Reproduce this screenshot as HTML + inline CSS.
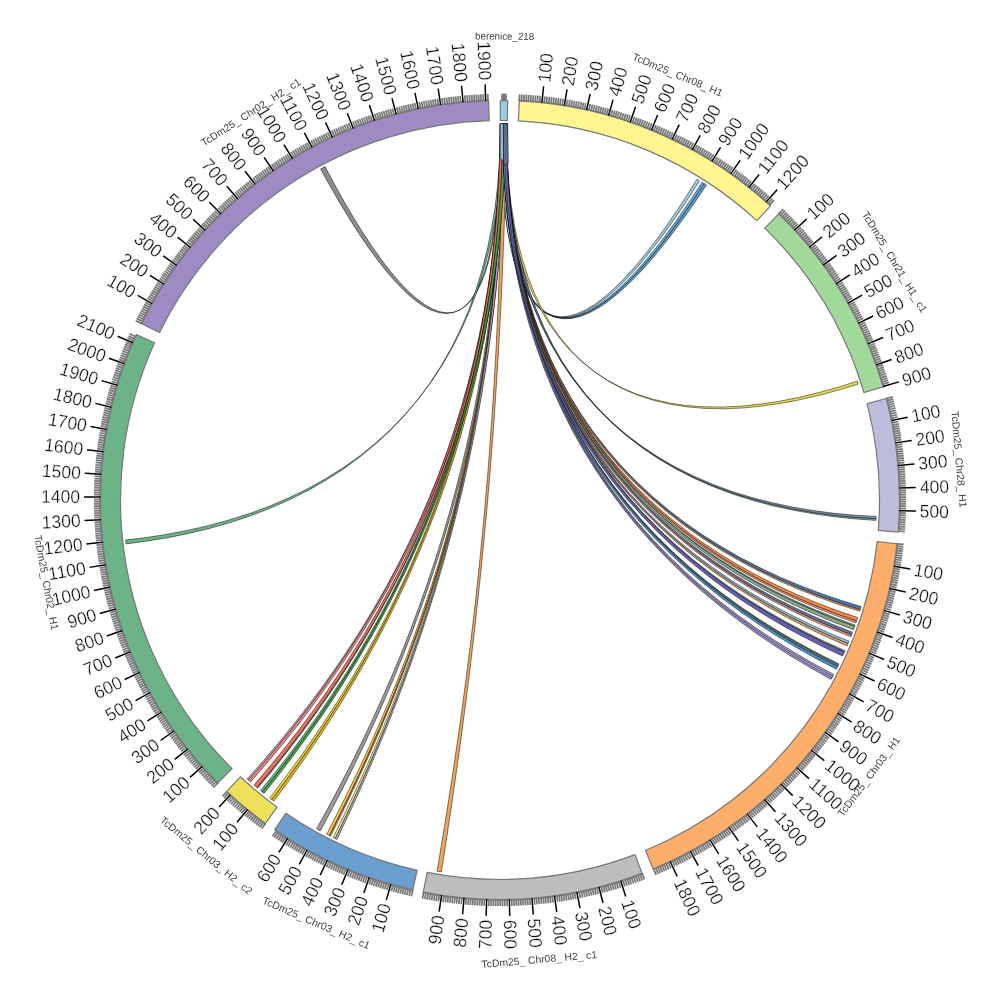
<!DOCTYPE html>
<html><head><meta charset="utf-8"><title>circos</title>
<style>html,body{margin:0;padding:0;background:#fff}svg{display:block}</style></head>
<body>
<svg width="1000" height="1000" viewBox="0 0 1000 1000">
<rect width="1000" height="1000" fill="#fff"/>
<g stroke="#000" stroke-opacity="0.62" stroke-width="0.8" stroke-linejoin="round">
<path d="M500.8 123.5L502 123.5L501.7 142.5L501.1 161.3L500.2 179.7L498.9 197.5L497.1 214.5L494.9 230.5L492.3 245.5L489.2 259.2L485.6 271.5L481.6 282.4L477 291.7L472 299.4L466.5 305.3L460.6 309.6L454.2 312.1L447.4 312.8L440.1 311.8L432.5 309L424.5 304.5L416.2 298.3L407.6 290.5L398.8 281.2L389.7 270.5L380.5 258.4L371.2 245.2L361.8 230.9L352.4 215.7L343.1 199.8L334 183.4L325 166.6L320.6 169L329.8 185.6L339.2 201.9L348.8 217.7L358.3 232.7L367.9 246.9L377.5 260L386.9 271.9L396.2 282.6L405.2 291.8L414 299.4L422.5 305.5L430.6 309.9L438.4 312.6L445.8 313.6L452.7 312.7L459.2 310.2L465.3 305.8L470.9 299.8L475.9 292L480.5 282.6L484.6 271.7L488.2 259.3L491.3 245.6L494 230.6L496.1 214.5L497.9 197.5L499.2 179.7L500.1 161.3L500.6 142.5L500.8 123.5Z" fill="#8c8c8c"/>
<path d="M500.7 123.5L503.6 123.5L503.1 144.6L501.9 165.8L499.9 187L497.1 208.2L493.5 229.3L489 250.1L483.6 270.6L477.3 290.6L469.9 310.2L461.6 329.2L452.3 347.7L442.1 365.4L430.8 382.4L418.6 398.7L405.4 414.1L391.3 428.8L376.3 442.5L360.4 455.4L343.8 467.3L326.3 478.3L308.2 488.4L289.4 497.6L270 505.9L250.2 513.3L229.9 519.7L209.3 525.4L188.5 530.2L167.5 534.2L146.5 537.5L125.6 540L126.1 543.9L146.9 541.1L167.9 537.7L188.8 533.4L209.6 528.4L230.2 522.6L250.4 515.9L270.2 508.3L289.5 499.8L308.2 490.4L326.2 480.1L343.6 468.9L360.1 456.8L375.9 443.8L390.8 429.9L404.8 415.2L417.8 399.6L429.9 383.2L441 366L451.2 348.2L460.3 329.7L468.5 310.6L475.6 290.9L481.8 270.8L487.1 250.2L491.4 229.4L494.9 208.3L497.5 187L499.2 165.8L500.3 144.6L500.7 123.5Z" fill="#6cb488"/>
<path d="M500.7 123.5L503.3 123.5L503.3 142.6L503.7 161.5L504.5 180L505.7 197.9L507.5 215.1L509.7 231.3L512.5 246.5L515.8 260.5L519.7 273.2L524.2 284.5L529.2 294.2L534.8 302.4L540.9 308.9L547.6 313.7L554.9 316.8L562.6 318.2L570.9 317.9L579.6 315.8L588.7 312.1L598.3 306.7L608.2 299.7L618.4 291.3L628.9 281.4L639.6 270.2L650.4 257.9L661.3 244.5L672.2 230.2L683 215.2L693.7 199.6L704.2 183.7L702 182.3L691.6 198.3L681 213.9L670.3 229L659.5 243.4L648.7 256.8L638 269.3L627.4 280.5L617 290.4L606.8 299L596.9 306L587.4 311.4L578.3 315.3L569.6 317.4L561.4 317.8L553.6 316.5L546.3 313.4L539.6 308.6L533.4 302.1L527.7 294L522.7 284.3L518.1 273.1L514.2 260.4L510.7 246.5L507.9 231.3L505.5 215L503.6 197.9L502.3 179.9L501.3 161.4L500.8 142.6L500.7 123.5Z" fill="#6baed6"/>
<path d="M500.7 123.5L503.3 123.5L503.3 142.6L503.7 161.5L504.5 180L505.8 197.9L507.5 215.1L509.8 231.4L512.6 246.6L516 260.7L519.9 273.4L524.4 284.7L529.5 294.4L535.1 302.6L541.3 309.2L548.1 314.1L555.4 317.2L563.3 318.7L571.6 318.4L580.4 316.4L589.7 312.7L599.3 307.4L609.4 300.5L619.7 292.1L630.3 282.3L641.1 271.2L652 259L663 245.6L674 231.4L685 216.5L695.8 201L706.4 185.1L704.2 183.7L693.7 199.6L683 215.2L672.2 230.2L661.2 244.5L650.3 257.9L639.5 270.3L628.7 281.4L618.2 291.3L608 299.7L598 306.7L588.4 312.1L579.2 315.8L570.4 317.9L562 318.2L554.2 316.9L546.8 313.7L540 308.9L533.8 302.4L528 294.2L522.9 284.5L518.3 273.2L514.3 260.6L510.9 246.6L507.9 231.4L505.5 215.1L503.7 197.9L502.3 180L501.3 161.5L500.8 142.6L500.7 123.5Z" fill="#5a9fd0"/>
<path d="M500.7 123.5L503.3 123.5L503.3 142.6L503.7 161.4L504.4 179.9L505.7 197.8L507.4 215L509.6 231.2L512.3 246.3L515.5 260.3L519.3 272.9L523.7 284.1L528.6 293.8L534 301.8L540 308.3L546.6 313L553.6 316L561.2 317.3L569.3 316.8L577.8 314.6L586.7 310.7L596.1 305.2L605.7 298.1L615.7 289.5L625.9 279.5L636.4 268.2L646.9 255.6L657.6 242.1L668.2 227.7L678.8 212.5L689.3 196.8L699.5 180.7L697 179.2L686.9 195.3L676.6 211.1L666.1 226.3L655.6 240.9L645 254.5L634.6 267.1L624.2 278.5L614.1 288.6L604.2 297.3L594.6 304.5L585.3 310L576.4 314L567.9 316.3L559.8 316.8L552.3 315.6L545.2 312.6L538.6 308L532.6 301.6L527.1 293.5L522.1 283.9L517.7 272.8L513.8 260.2L510.5 246.3L507.7 231.1L505.4 214.9L503.6 197.8L502.2 179.9L501.3 161.4L500.8 142.5L500.7 123.5Z" fill="#9ecae1"/>
<path d="M502 123.5L504.9 123.5L504.5 147.2L503.7 171.1L502.6 195.2L501.1 219.4L499.2 243.8L497 268.2L494.4 292.7L491.3 317.3L487.8 341.9L483.9 366.5L479.6 391.1L474.8 415.7L469.5 440.2L463.9 464.6L457.7 489L451.2 513.2L444.2 537.3L436.8 561.2L429 585L420.7 608.6L412.1 632L403.2 655.1L393.8 678.1L384.1 700.8L374.1 723.2L363.9 745.3L353.3 767.2L342.5 788.7L331.5 810L320.3 830.9L316.6 828.8L328 808.1L339.2 787L350.2 765.6L360.9 743.9L371.4 721.9L381.5 699.6L391.4 677L400.9 654.2L410 631.1L418.7 607.8L427 584.3L434.9 560.6L442.4 536.7L449.5 512.6L456.1 488.5L462.2 464.2L467.9 439.8L473.1 415.3L477.9 390.7L482.2 366.2L486.1 341.6L489.5 317L492.4 292.5L495 268L497.1 243.5L498.8 219.2L500.1 195L501.1 171L501.7 147.2L502 123.5Z" fill="#9a9a9a"/>
<path d="M502.6 123.5L505.6 123.5L505.1 147.3L504.3 171.3L503.2 195.4L501.7 219.7L499.9 244.1L497.7 268.6L495.2 293.2L492.2 317.9L488.9 342.5L485.1 367.2L481 391.9L476.4 416.5L471.4 441.1L466 465.7L460.2 490.1L453.9 514.5L447.3 538.7L440.2 562.8L432.8 586.8L424.9 610.5L416.7 634.1L408.2 657.5L399.3 680.7L390.1 703.6L380.6 726.3L370.8 748.7L360.8 770.9L350.5 792.8L340 814.3L329.4 835.6L326.7 834.3L337.5 813.1L348.1 791.6L358.6 769.9L368.7 747.8L378.6 725.5L388.2 702.9L397.5 680L406.5 656.9L415.1 633.6L423.4 610L431.3 586.3L438.8 562.4L445.8 538.3L452.5 514.1L458.8 489.8L464.6 465.4L470 440.8L474.9 416.3L479.5 391.6L483.6 367L487.2 342.3L490.5 317.6L493.3 293L495.7 268.4L497.8 243.9L499.4 219.6L500.7 195.3L501.7 171.2L502.3 147.3L502.6 123.5Z" fill="#f5c842"/>
<path d="M502.6 123.5L505.6 123.5L505.1 147.3L504.3 171.3L503.2 195.5L501.7 219.8L499.9 244.2L497.8 268.7L495.2 293.3L492.3 317.9L489 342.6L485.3 367.3L481.1 392L476.6 416.6L471.6 441.3L466.2 465.8L460.4 490.3L454.2 514.7L447.6 538.9L440.6 563L433.2 587L425.5 610.8L417.3 634.4L408.8 657.8L400 681L390.9 704L381.4 726.7L371.7 749.2L361.7 771.4L351.5 793.3L341.1 814.9L330.5 836.2L329.4 835.6L340 814.4L350.5 792.8L360.7 770.9L370.7 748.8L380.5 726.4L390 703.7L399.1 680.7L408 657.6L416.5 634.2L424.6 610.6L432.4 586.8L439.7 562.8L446.7 538.7L453.3 514.5L459.4 490.1L465.1 465.7L470.5 441.1L475.3 416.5L479.8 391.8L483.8 367.1L487.4 342.5L490.6 317.8L493.4 293.1L495.8 268.6L497.8 244L499.5 219.6L500.8 195.4L501.7 171.2L502.3 147.3L502.6 123.5Z" fill="#f08050"/>
<path d="M502.6 123.5L505.6 123.5L505.1 147.4L504.3 171.4L503.2 195.6L501.8 219.9L500.1 244.4L498 268.9L495.5 293.5L492.6 318.2L489.4 342.9L485.8 367.6L481.7 392.4L477.3 417.1L472.5 441.7L467.2 466.3L461.6 490.9L455.6 515.3L449.2 539.6L442.4 563.8L435.2 587.8L427.6 611.7L419.7 635.4L411.4 659L402.9 682.3L394 705.4L384.8 728.2L375.3 750.8L365.6 773.2L355.7 795.3L345.6 817L335.2 838.5L333.2 837.5L343.6 816.1L353.8 794.4L363.9 772.4L373.7 750.2L383.2 727.6L392.5 704.8L401.4 681.8L410.1 658.5L418.4 635L426.3 611.4L433.9 587.5L441.1 563.5L447.9 539.3L454.4 515L460.4 490.6L466 466.1L471.2 441.5L475.9 416.8L480.3 392.1L484.2 367.4L487.8 342.7L490.9 318L493.6 293.3L496 268.7L497.9 244.2L499.5 219.8L500.8 195.5L501.7 171.3L502.3 147.3L502.6 123.5Z" fill="#f5ee80"/>
<path d="M502.6 123.5L505.6 123.5L505.1 147.4L504.3 171.4L503.2 195.6L501.8 220L500.1 244.4L498 269L495.6 293.6L492.7 318.3L489.5 343L485.9 367.8L482 392.5L477.6 417.2L472.8 441.9L467.6 466.5L462.1 491.1L456.1 515.5L449.7 539.9L443 564.1L435.9 588.2L428.4 612.1L420.6 635.8L412.4 659.4L403.9 682.7L395.1 705.9L386.1 728.8L376.7 751.4L367.1 773.8L357.3 796L347.2 817.8L337 839.4L335.2 838.5L345.5 817.1L355.7 795.3L365.6 773.2L375.3 750.9L384.7 728.3L393.8 705.4L402.7 682.3L411.2 659L419.4 635.5L427.3 611.8L434.8 587.9L441.9 563.8L448.6 539.6L454.9 515.3L460.9 490.8L466.4 466.3L471.5 441.7L476.2 417L480.5 392.3L484.4 367.6L487.9 342.8L491 318.1L493.7 293.4L496 268.8L498 244.3L499.6 219.8L500.8 195.5L501.7 171.3L502.3 147.3L502.6 123.5Z" fill="#b0aac8"/>
<path d="M502 123.5L505.6 123.5L505 146.8L504.1 170.3L502.7 194L500.9 217.8L498.6 241.8L495.7 265.8L492.4 289.9L488.5 314L484.1 338.2L479.1 362.3L473.5 386.3L467.4 410.2L460.7 434L453.5 457.7L445.7 481.2L437.3 504.5L428.4 527.6L418.9 550.5L408.9 573.1L398.5 595.4L387.5 617.4L376.1 639.1L364.2 660.5L352 681.5L339.4 702.2L326.4 722.5L313.1 742.3L299.6 761.8L285.8 780.9L271.8 799.5L269.8 797.9L283.8 779.4L297.7 760.5L311.3 741.1L324.7 721.3L337.7 701.2L350.4 680.6L362.7 659.7L374.6 638.4L386.1 616.7L397.1 594.8L407.6 572.5L417.5 549.9L427 527.1L435.9 504.1L444.2 480.8L452 457.3L459.2 433.7L465.8 409.9L471.8 386L477.2 362L482.1 337.9L486.4 313.8L490.1 289.7L493.3 265.6L496 241.6L498.1 217.6L499.7 193.8L500.9 170.2L501.7 146.7L502 123.5Z" fill="#f0d840"/>
<path d="M502 123.5L505.6 123.5L505 146.8L504.1 170.3L502.7 194L500.9 217.9L498.6 241.9L495.8 265.9L492.5 290.1L488.6 314.2L484.3 338.4L479.3 362.5L473.8 386.5L467.7 410.5L461.1 434.3L453.9 458.1L446.2 481.6L437.9 505L429.1 528.1L419.7 551L409.8 573.7L399.4 596.1L388.6 618.2L377.3 640L365.5 661.4L353.4 682.5L340.9 703.3L328 723.6L314.8 743.6L301.4 763.2L287.8 782.3L273.9 801.1L271.8 799.5L285.8 780.9L299.5 761.9L313 742.4L326.3 722.5L339.2 702.2L351.8 681.6L364 660.6L375.8 639.2L387.2 617.5L398 595.4L408.4 573.1L418.3 550.5L427.7 527.6L436.5 504.5L444.7 481.2L452.4 457.7L459.6 434L466.1 410.2L472.1 386.2L477.5 362.2L482.3 338.1L486.5 313.9L490.2 289.8L493.4 265.7L496 241.7L498.1 217.7L499.8 193.9L500.9 170.2L501.7 146.7L502 123.5Z" fill="#e8b820"/>
<path d="M500.3 123.5L503.9 123.5L503.5 146.5L502.6 169.8L501.2 193.2L499.3 216.9L496.8 240.6L493.8 264.4L490.2 288.2L486 312.1L481.2 335.9L475.8 359.6L469.8 383.3L463.1 406.8L455.7 430.2L447.8 453.4L439.2 476.3L430 499.1L420.2 521.5L409.8 543.7L398.8 565.5L387.3 587.1L375.2 608.2L362.6 629L349.6 649.4L336.1 669.4L322.2 689L308 708.1L293.4 726.8L278.6 745L263.5 762.8L248.3 780L247.1 778.9L262.4 761.7L277.5 744.1L292.3 725.9L306.9 707.3L321.2 688.3L335.1 668.8L348.6 648.8L361.7 628.5L374.2 607.7L386.3 586.6L397.8 565.1L408.7 543.3L419.1 521.2L428.8 498.7L438 476L446.5 453.1L454.3 429.9L461.5 406.6L468.1 383.1L474 359.4L479.3 335.7L484 311.9L488 288L491.4 264.2L494.3 240.4L496.5 216.7L498.2 193.1L499.4 169.7L500.1 146.5L500.3 123.5Z" fill="#c3c4e8"/>
<path d="M500.3 123.5L503.9 123.5L503.5 146.6L502.6 169.8L501.2 193.3L499.3 216.9L496.9 240.7L493.9 264.5L490.3 288.4L486.2 312.3L481.4 336.1L476.1 359.9L470.1 383.6L463.4 407.2L456.2 430.6L448.3 453.8L439.8 476.8L430.7 499.6L420.9 522.1L410.6 544.4L399.7 566.3L388.3 587.9L376.3 609.2L363.9 630L351 650.5L337.6 670.6L323.8 690.3L309.7 709.6L295.3 728.4L280.6 746.7L265.6 764.6L250.5 782L248.3 780L263.5 762.8L278.6 745L293.4 726.8L307.9 708.2L322.1 689L335.9 669.5L349.4 649.5L362.3 629.1L374.8 608.3L386.8 587.1L398.3 565.6L409.2 543.7L419.5 521.5L429.2 499L438.3 476.3L446.7 453.3L454.6 430.1L461.7 406.8L468.3 383.2L474.2 359.6L479.4 335.8L484.1 312L488.1 288.1L491.5 264.3L494.3 240.5L496.5 216.8L498.2 193.2L499.4 169.7L500.1 146.5L500.3 123.5Z" fill="#f08078"/>
<path d="M502.3 123.5L506.9 123.6L506.4 148.3L505.8 173L505.1 197.9L504.3 222.8L503.4 247.7L502.4 272.7L501.3 297.8L500 322.9L498.7 348L497.2 373.1L495.5 398.3L493.8 423.4L491.9 448.6L489.9 473.8L487.8 498.9L485.5 524.1L483.1 549.2L480.6 574.3L477.9 599.4L475.2 624.5L472.3 649.5L469.3 674.4L466.2 699.4L462.9 724.2L459.6 749L456.1 773.8L452.6 798.4L448.9 823L445.2 847.5L441.4 871.9L437.1 871.2L441.1 846.9L445.1 822.5L449 798L452.8 773.4L456.4 748.7L460 724L463.4 699.2L466.6 674.3L469.8 649.3L472.8 624.3L475.7 599.3L478.4 574.2L480.9 549.1L483.4 523.9L485.6 498.7L487.8 473.6L489.7 448.4L491.5 423.2L493.2 398L494.7 372.8L496.1 347.7L497.3 322.6L498.4 297.5L499.3 272.5L500.1 247.5L500.8 222.5L501.4 197.7L501.8 172.9L502.1 148.1L502.3 123.5Z" fill="#f2a35a"/>
<path d="M500.1 123.5L503.6 123.5L503.2 146.6L502.3 170L501 193.5L499.2 217.2L496.8 241L494 264.9L490.5 288.9L486.5 312.9L481.9 336.8L476.7 360.7L470.9 384.5L464.5 408.2L457.4 431.8L449.8 455.2L441.5 478.4L432.7 501.4L423.3 524.1L413.3 546.6L402.7 568.7L391.6 590.6L380 612.1L368 633.3L355.4 654.1L342.4 674.5L329.1 694.6L315.3 714.2L301.3 733.4L287 752.1L272.5 770.4L257.7 788.2L257 787.6L271.7 769.8L286.3 751.6L300.6 732.9L314.7 713.8L328.4 694.2L341.8 674.2L354.7 653.8L367.3 633L379.3 611.9L390.9 590.4L401.9 568.5L412.4 546.3L422.4 523.9L431.7 501.2L440.5 478.2L448.6 455L456.1 431.6L463.1 408.1L469.4 384.4L475 360.5L480.1 336.7L484.5 312.7L488.4 288.8L491.7 264.8L494.4 240.9L496.5 217.1L498.1 193.4L499.3 169.9L499.9 146.6L500.1 123.5Z" fill="#a0a0a0"/>
<path d="M500.1 123.5L503.6 123.5L503.2 146.6L502.3 170L501 193.5L499.2 217.2L496.8 241L493.9 264.9L490.5 288.8L486.4 312.8L481.8 336.7L476.6 360.6L470.8 384.4L464.3 408.1L457.3 431.7L449.6 455L441.4 478.2L432.5 501.2L423 523.9L413 546.3L402.4 568.5L391.3 590.3L379.7 611.8L367.5 633L354.9 653.7L341.9 674.1L328.5 694.1L314.8 713.7L300.7 732.8L286.3 751.5L271.7 769.8L257 787.6L254 785L268.9 767.4L283.6 749.4L298.1 730.8L312.3 711.9L326.2 692.4L339.7 672.6L352.9 652.3L365.6 631.7L377.8 610.6L389.5 589.3L400.7 567.5L411.3 545.5L421.4 523.1L430.8 500.5L439.7 477.6L447.9 454.4L455.6 431.1L462.6 407.6L469 384L474.7 360.2L479.8 336.4L484.3 312.5L488.2 288.5L491.5 264.6L494.3 240.8L496.5 217L498.1 193.3L499.2 169.8L499.9 146.5L500.1 123.5Z" fill="#e8705a"/>
<path d="M503 123.5L506.2 123.6L505.7 146.7L504.6 170.1L503.2 193.7L501.2 217.5L498.8 241.3L495.8 265.3L492.3 289.3L488.2 313.3L483.6 337.3L478.4 361.3L472.5 385.2L466.1 408.9L459.1 432.6L451.6 456L443.4 479.3L434.6 502.4L425.3 525.3L415.4 547.9L405 570.2L394.1 592.2L382.7 613.9L370.7 635.2L358.4 656.2L345.6 676.8L332.5 697.1L319 716.9L305.2 736.3L291.1 755.3L276.8 773.9L262.3 792L260.5 790.5L275.1 772.5L289.5 754.1L303.6 735.2L317.5 715.9L331.1 696.1L344.3 676L357.1 655.4L369.5 634.5L381.4 613.2L392.9 591.6L403.8 569.6L414.2 547.4L424.1 524.8L433.4 502L442.1 479L450.2 455.7L457.7 432.2L464.7 408.6L471 384.9L476.7 361L481.8 337.1L486.3 313.1L490.3 289.1L493.6 265.1L496.4 241.2L498.7 217.3L500.5 193.6L501.8 170L502.6 146.6L503 123.5Z" fill="#5fba7d"/>
<path d="M503 123.5L506.2 123.6L505.7 146.7L504.7 170.2L503.2 193.8L501.3 217.5L498.8 241.4L495.9 265.4L492.4 289.4L488.4 313.5L483.7 337.5L478.6 361.5L472.8 385.4L466.4 409.2L459.5 432.8L452 456.4L443.8 479.7L435.2 502.8L425.9 525.7L416.1 548.4L405.8 570.7L394.9 592.8L383.6 614.6L371.8 636L359.5 657L346.8 677.7L333.8 698.1L320.4 718L306.6 737.5L292.7 756.6L278.5 775.2L264.1 793.4L262.3 792L276.8 773.9L291 755.4L305.1 736.4L318.9 717L332.3 697.1L345.5 676.9L358.2 656.3L370.5 635.3L382.3 613.9L393.7 592.2L404.6 570.2L414.9 547.9L424.7 525.3L433.9 502.4L442.6 479.3L450.6 456L458.1 432.5L464.9 408.9L471.2 385.1L476.9 361.2L481.9 337.2L486.4 313.2L490.3 289.2L493.7 265.2L496.5 241.2L498.7 217.4L500.5 193.6L501.8 170L502.6 146.7L503 123.5Z" fill="#4aa848"/>
<path d="M503.6 123.5L507.1 123.6L507 143.6L507.6 163.7L508.9 183.7L511 203.4L514 222.8L517.8 241.6L522.5 259.8L528.1 277.2L534.7 293.9L542.3 309.6L550.9 324.3L560.5 338L571 350.5L582.5 361.9L594.9 372L608.2 381L622.5 388.7L637.5 395.1L653.4 400.3L669.9 404.2L687.2 406.9L705 408.4L723.4 408.8L742.1 408L761.2 406.2L780.6 403.4L800.1 399.7L819.6 395.1L839 389.9L858.2 384L857.3 381.2L838.1 387.2L818.8 392.6L799.3 397.3L779.8 401.2L760.5 404.1L741.4 406.1L722.6 407L704.2 406.8L686.4 405.5L669.1 402.9L652.5 399.1L636.6 394.1L621.5 387.7L607.2 380.1L593.8 371.3L581.2 361.2L569.6 349.9L559 337.5L549.3 323.9L540.6 309.3L532.8 293.6L526.1 277L520.3 259.6L515.4 241.5L511.4 222.7L508.3 203.4L506 183.7L504.5 163.7L503.7 143.6L503.6 123.5Z" fill="#e8dc50"/>
<path d="M503.6 123.5L506.6 123.6L506.5 144.4L507.2 165.4L508.6 186.5L510.8 207.5L513.9 228.3L517.9 248.8L522.8 269L528.7 288.8L535.5 308L543.4 326.6L552.3 344.6L562.2 361.9L573.1 378.3L585.1 394L597.9 408.8L611.8 422.7L626.6 435.8L642.2 447.8L658.7 458.9L676 469.1L694.1 478.3L712.7 486.5L732 493.8L751.8 500.1L772 505.6L792.5 510.1L813.3 513.8L834.2 516.8L855.1 518.9L875.9 520.4L876 518.7L855.2 517.4L834.3 515.3L813.4 512.5L792.5 508.9L772 504.4L751.7 499L731.9 492.8L712.6 485.6L693.8 477.4L675.7 468.3L658.4 458.2L641.8 447.2L626 435.2L611.2 422.3L597.2 408.4L584.2 393.6L572.2 378L561.1 361.6L551.1 344.4L542 326.5L534 307.9L527 288.7L521 268.9L515.9 248.8L511.7 228.2L508.5 207.4L506.1 186.5L504.6 165.4L503.7 144.4L503.6 123.5Z" fill="#7fc08a"/>
<path d="M503.6 123.5L506.6 123.6L506.5 144.4L507.2 165.4L508.6 186.5L510.8 207.4L513.9 228.2L517.9 248.7L522.8 268.9L528.7 288.6L535.6 307.8L543.4 326.4L552.3 344.4L562.2 361.6L573.2 378L585.1 393.6L598 408.4L611.8 422.2L626.6 435.2L642.3 447.2L658.8 458.2L676.1 468.3L694.1 477.4L712.8 485.6L732.1 492.8L751.9 499L772.1 504.4L792.6 508.9L813.4 512.5L834.3 515.3L855.2 517.4L876 518.7L876.1 516.4L855.3 515.2L834.4 513.3L813.5 510.6L792.7 507.1L772.1 502.7L751.8 497.5L732 491.4L712.7 484.3L693.9 476.2L675.8 467.2L658.5 457.3L641.9 446.3L626.1 434.4L611.2 421.6L597.3 407.8L584.2 393.1L572.2 377.6L561.1 361.2L551.1 344L542.1 326.2L534 307.6L527 288.5L521 268.8L515.9 248.7L511.8 228.2L508.5 207.4L506.1 186.4L504.6 165.4L503.7 144.4L503.6 123.5Z" fill="#7f8fb0"/>
<path d="M503.6 123.5L506.9 123.6L506.8 145L507.4 166.6L508.7 188.4L510.8 210.2L513.7 232L517.4 253.6L522.1 275L527.6 296.2L534.1 317L541.6 337.4L550 357.4L559.3 376.8L569.7 395.7L581 414L593.2 431.7L606.4 448.6L620.4 464.9L635.3 480.4L651.1 495.2L667.6 509.3L684.8 522.5L702.7 535L721.2 546.6L740.2 557.5L759.7 567.6L779.6 576.9L799.8 585.4L820.2 593.2L840.6 600.2L861.1 606.6L860.1 609.8L839.7 603.2L819.2 596L798.9 588L778.7 579.3L758.9 569.8L739.4 559.5L720.3 548.5L701.8 536.7L683.9 524.1L666.7 510.7L650.1 496.5L634.4 481.6L619.4 466L605.3 449.6L592.1 432.5L579.7 414.7L568.4 396.4L557.9 377.4L548.4 357.9L539.9 337.8L532.3 317.4L525.7 296.5L520 275.3L515.2 253.8L511.3 232.1L508.2 210.3L506 188.5L504.5 166.7L503.7 145L503.6 123.5Z" fill="#4a78a8"/>
<path d="M503.6 123.5L506.9 123.6L506.8 145L507.4 166.7L508.7 188.5L510.8 210.3L513.6 232.1L517.4 253.8L522 275.2L527.5 296.4L534 317.3L541.4 337.8L549.8 357.8L559.2 377.4L569.5 396.3L580.7 414.7L592.9 432.5L606.1 449.6L620.1 466L634.9 481.6L650.6 496.6L667.1 510.7L684.2 524.1L702.1 536.7L720.6 548.5L739.5 559.6L759 569.8L778.8 579.3L799 588L819.3 596L839.7 603.2L860.1 609.8L859.7 611.3L839.2 604.7L818.8 597.3L798.5 589.3L778.3 580.5L758.5 570.9L739 560.6L720 549.5L701.5 537.6L683.6 524.9L666.4 511.4L649.9 497.2L634.1 482.2L619.2 466.5L605.1 450L591.9 432.9L579.6 415.1L568.3 396.7L557.8 377.7L548.4 358.1L539.8 338L532.3 317.5L525.7 296.6L520 275.4L515.2 253.9L511.3 232.2L508.2 210.4L506 188.5L504.5 166.7L503.7 145L503.6 123.5Z" fill="#f2a060"/>
<path d="M503.6 123.5L506.6 123.6L506.5 145.1L507.1 166.8L508.4 188.7L510.5 210.6L513.3 232.5L517.1 254.2L521.7 275.8L527.2 297.1L533.6 318.1L541 338.8L549.3 359L558.6 378.7L568.8 397.9L580 416.5L592.1 434.5L605.1 451.9L619.1 468.6L633.8 484.6L649.4 499.8L665.7 514.3L682.8 528.1L700.5 541.1L718.8 553.3L737.7 564.7L757 575.4L776.8 585.3L796.8 594.5L817 602.9L837.3 610.6L857.7 617.6L856.5 621L836.2 613.8L815.9 605.9L795.7 597.3L775.7 587.9L756 577.8L736.7 567L717.9 555.3L699.5 542.9L681.8 529.8L664.8 515.9L648.4 501.2L632.8 485.8L618 469.7L604.1 452.9L591 435.4L578.8 417.3L567.6 398.6L557.3 379.3L547.9 359.5L539.5 339.2L532 318.5L525.4 297.5L519.8 276.1L515 254.5L511.2 232.6L508.2 210.7L505.9 188.8L504.5 166.9L503.7 145.1L503.6 123.5Z" fill="#f58a42"/>
<path d="M503.6 123.5L506.6 123.6L506.5 145.1L507.1 166.9L508.4 188.8L510.4 210.7L513.3 232.6L517 254.4L521.6 276L527.1 297.4L533.5 318.5L540.8 339.2L549.1 359.5L558.4 379.3L568.6 398.6L579.7 417.3L591.8 435.4L604.8 452.9L618.6 469.7L633.3 485.8L648.8 501.2L665.1 515.9L682.1 529.8L699.8 543L718.1 555.4L736.9 567L756.2 577.8L775.8 587.9L795.8 597.3L815.9 605.9L836.2 613.8L856.5 621L855.9 622.9L835.6 615.6L815.3 607.5L795.2 598.8L775.2 589.3L755.5 579.1L736.3 568.2L717.4 556.5L699.2 544L681.5 530.7L664.4 516.7L648.1 502L632.5 486.5L617.8 470.3L603.9 453.5L590.8 435.9L578.7 417.8L567.4 399L557.1 379.7L547.8 359.8L539.4 339.5L531.9 318.7L525.4 297.6L519.7 276.2L515 254.6L511.2 232.7L508.1 210.8L505.9 188.8L504.5 166.9L503.7 145.1L503.6 123.5Z" fill="#f59a80"/>
<path d="M503.6 123.5L506.6 123.6L506.5 145.1L507.1 166.9L508.4 188.8L510.4 210.8L513.3 232.8L517 254.6L521.5 276.3L527 297.8L533.4 318.9L540.7 339.7L548.9 360.1L558.1 380L568.3 399.4L579.4 418.2L591.4 436.5L604.3 454.1L618.1 471.1L632.7 487.3L648.2 502.9L664.4 517.8L681.3 531.9L698.9 545.2L717.1 557.8L735.9 569.6L755.1 580.7L774.7 591L794.6 600.6L814.7 609.5L834.9 617.6L855.1 625.1L854.7 626.3L834.4 618.8L814.2 610.5L794.1 601.6L774.2 592L754.6 581.6L735.4 570.4L716.6 558.5L698.4 545.9L680.8 532.5L663.8 518.3L647.5 503.4L632 487.8L617.3 471.5L603.5 454.5L590.5 436.8L578.4 418.5L567.2 399.7L556.9 380.2L547.6 360.3L539.2 339.9L531.8 319.1L525.3 297.9L519.7 276.5L515 254.8L511.1 232.9L508.1 210.9L505.9 188.9L504.5 166.9L503.7 145.1L503.6 123.5Z" fill="#8fd08a"/>
<path d="M503.6 123.5L506.6 123.6L506.5 145.1L507.1 166.9L508.4 188.9L510.4 210.9L513.3 232.8L516.9 254.7L521.5 276.4L526.9 297.9L533.3 319.1L540.6 339.9L548.9 360.3L558.1 380.2L568.2 399.6L579.3 418.5L591.3 436.8L604.2 454.5L617.9 471.5L632.6 487.8L648 503.4L664.2 518.3L681.1 532.5L698.7 545.9L716.8 558.5L735.6 570.4L754.7 581.6L774.3 592L794.2 601.6L814.3 610.6L834.5 618.8L854.7 626.3L853.5 629.7L833.3 622L813.1 613.5L793 604.4L773.2 594.6L753.7 584L734.5 572.7L715.8 560.6L697.7 547.8L680.1 534.2L663.2 519.9L647 504.8L631.5 489.1L616.9 472.6L603.1 455.5L590.1 437.7L578.1 419.3L566.9 400.3L556.7 380.8L547.4 360.8L539.1 340.3L531.7 319.5L525.2 298.2L519.6 276.7L514.9 254.9L511.1 233L508.1 211L505.9 189L504.5 167L503.7 145.1L503.6 123.5Z" fill="#8aa890"/>
<path d="M503.3 123.5L506.6 123.6L506.5 145.2L507.1 167L508.4 189L510.4 211.1L513.2 233.1L516.9 255.1L521.4 276.8L526.8 298.4L533.1 319.7L540.4 340.6L548.5 361.1L557.7 381.2L567.7 400.8L578.7 419.9L590.6 438.3L603.4 456.2L617.1 473.4L631.7 490L647 505.9L663.1 521L679.9 535.4L697.3 549.1L715.4 562.1L734 574.3L753.1 585.8L772.5 596.5L792.3 606.5L812.3 615.7L832.4 624.3L852.5 632.2L851.5 634.9L831.4 626.9L811.3 618.2L791.3 608.7L771.6 598.6L752.1 587.7L733.1 576.1L714.5 563.7L696.4 550.6L678.9 536.8L662.1 522.3L646 507L630.6 491L616.1 474.4L602.3 457L589.5 439.1L577.5 420.5L566.4 401.4L556.2 381.7L547 361.6L538.7 341L531.3 320L524.9 298.7L519.3 277.1L514.6 255.3L510.8 233.3L507.8 211.2L505.6 189.1L504.2 167.1L503.4 145.2L503.3 123.5Z" fill="#64789f"/>
<path d="M503.3 123.5L506.6 123.6L506.5 145.2L507.1 167.1L508.3 189.1L510.4 211.2L513.2 233.2L516.8 255.2L521.3 277L526.7 298.6L533 320L540.2 341L548.4 361.6L557.5 381.7L567.5 401.4L578.5 420.5L590.3 439.1L603.1 457L616.7 474.4L631.2 491L646.5 507L662.5 522.3L679.3 536.8L696.7 550.7L714.7 563.8L733.3 576.1L752.3 587.7L771.7 598.6L791.4 608.7L811.3 618.2L831.4 626.9L851.5 634.9L850.8 636.8L830.7 628.6L810.6 619.8L790.7 610.2L771 600L751.6 589L732.6 577.3L714 564.8L696 551.7L678.5 537.7L661.8 523.1L645.7 507.8L630.3 491.7L615.8 475L602.1 457.6L589.3 439.6L577.3 420.9L566.3 401.8L556.1 382.1L546.9 361.9L538.6 341.2L531.3 320.2L524.8 298.9L519.3 277.2L514.6 255.4L510.8 233.3L507.8 211.3L505.6 189.1L504.2 167.1L503.4 145.2L503.3 123.5Z" fill="#f59a80"/>
<path d="M503.3 123.5L506.6 123.6L506.5 145.3L507.1 167.2L508.3 189.3L510.3 211.5L513.1 233.6L516.7 255.7L521.1 277.7L526.5 299.4L532.7 320.9L539.8 342L547.9 362.8L556.9 383.2L566.8 403.1L577.6 422.5L589.4 441.3L602 459.5L615.5 477.2L629.8 494.2L644.9 510.5L660.8 526.2L677.4 541.1L694.6 555.4L712.5 568.9L730.8 581.7L749.7 593.8L768.9 605.1L788.5 615.8L808.2 625.7L828.1 634.9L848.1 643.5L847.1 645.9L827.2 637.2L807.3 627.8L787.5 617.7L768 607L748.8 595.5L729.9 583.3L711.6 570.4L693.7 556.7L676.5 542.3L659.9 527.3L644 511.5L628.8 495.1L614.5 478L600.9 460.3L588.2 441.9L576.4 423L565.5 403.6L555.5 383.6L546.4 363.2L538.2 342.4L530.9 321.2L524.5 299.7L519.1 277.9L514.5 255.9L510.7 233.8L507.7 211.6L505.6 189.4L504.1 167.2L503.4 145.3L503.3 123.5Z" fill="#e8a060"/>
<path d="M503 123.5L506.6 123.6L506.5 145.4L507 167.5L508.2 189.8L510.1 212.2L512.8 234.5L516.3 256.9L520.6 279.1L525.8 301.2L531.8 323L538.7 344.6L546.6 365.8L555.3 386.7L564.9 407.1L575.4 427.1L586.8 446.6L599.1 465.6L612.2 483.9L626.1 501.7L640.8 518.9L656.2 535.5L672.3 551.4L689.1 566.6L706.5 581.2L724.4 595L742.7 608.2L761.5 620.7L780.6 632.5L799.9 643.6L819.4 654.1L839 663.9L838.5 664.8L819 654.9L799.5 644.4L780.1 633.2L761 621.4L742.2 608.8L723.9 595.6L705.9 581.7L688.5 567.1L671.7 551.8L655.5 535.9L640 519.3L625.3 502.1L611.3 484.2L598.1 465.8L585.7 446.8L574.2 427.3L563.6 407.3L553.8 386.9L545 366L537 344.8L529.9 323.2L523.7 301.3L518.4 279.2L513.9 257L510.2 234.6L507.4 212.2L505.2 189.8L503.8 167.5L503.1 145.4L503 123.5Z" fill="#c8c040"/>
<path d="M503 123.5L506.6 123.6L506.5 145.4L507 167.5L508.2 189.8L510.1 212.2L512.8 234.6L516.3 256.9L520.6 279.2L525.8 301.3L531.8 323.1L538.7 344.7L546.5 366L555.2 386.8L564.8 407.3L575.3 427.3L586.7 446.8L598.9 465.8L612 484.2L625.9 502.1L640.6 519.3L656 535.9L672.1 551.8L688.8 567.1L706.2 581.7L724.1 595.6L742.4 608.9L761.1 621.4L780.2 633.3L799.5 644.4L819 654.9L838.5 664.8L837.7 666.5L818.2 656.6L798.7 646L779.4 634.7L760.3 622.7L741.6 610.1L723.2 596.7L705.4 582.7L688 568L671.2 552.7L655.1 536.7L639.6 520L624.9 502.7L611 484.8L597.8 466.3L585.5 447.3L574 427.7L563.4 407.7L553.7 387.2L544.9 366.3L536.9 345L529.9 323.4L523.7 301.5L518.4 279.4L513.9 257.1L510.2 234.7L507.3 212.3L505.2 189.9L503.8 167.6L503.1 145.4L503 123.5Z" fill="#4f8fa0"/>
<path d="M503 123.5L506.6 123.6L506.5 145.4L507 167.6L508.2 189.9L510.1 212.3L512.8 234.7L516.3 257L520.6 279.3L525.7 301.4L531.7 323.3L538.6 344.9L546.4 366.2L555.1 387.2L564.6 407.7L575.1 427.7L586.4 447.3L598.6 466.3L611.7 484.8L625.5 502.7L640.2 520L655.5 536.7L671.6 552.7L688.3 568.1L705.6 582.8L723.4 596.8L741.7 610.1L760.4 622.7L779.5 634.7L798.7 646L818.2 656.6L837.7 666.5L836.4 669.2L816.9 659.1L797.5 648.3L778.3 636.8L759.3 624.7L740.6 611.9L722.3 598.5L704.5 584.3L687.2 569.5L670.5 554L654.4 537.9L639 521.1L624.4 503.7L610.5 485.7L597.4 467.1L585.1 448L573.7 428.3L563.2 408.2L553.5 387.6L544.7 366.7L536.8 345.3L529.7 323.6L523.6 301.7L518.3 279.6L513.8 257.2L510.2 234.8L507.3 212.4L505.2 189.9L503.8 167.6L503.1 145.4L503 123.5Z" fill="#4f8fd0"/>
<path d="M503 123.5L506.9 123.6L506.8 145.5L507.3 167.7L508.4 190.1L510.3 212.5L512.9 235L516.3 257.5L520.5 279.9L525.6 302.1L531.5 324.2L538.3 345.9L545.9 367.4L554.5 388.5L563.9 409.2L574.2 429.5L585.4 449.3L597.4 468.6L610.3 487.4L624 505.6L638.4 523.3L653.6 540.3L669.4 556.7L685.9 572.4L703 587.5L720.6 601.9L738.7 615.7L757.2 628.8L776 641.2L795.1 652.9L814.3 664L833.7 674.4L831 679.4L811.8 668.6L792.7 657.2L773.7 645.2L755 632.5L736.6 619.1L718.6 605.1L701 590.4L684 575.1L667.6 559.1L651.8 542.5L636.6 525.3L622.2 507.4L608.6 489L595.7 470.1L583.7 450.6L572.4 430.7L562.1 410.2L552.6 389.4L543.9 368.2L536.2 346.6L529.2 324.7L523.2 302.6L518 280.3L513.6 257.9L510 235.3L507.2 212.7L505.2 190.2L503.8 167.8L503.1 145.5L503 123.5Z" fill="#a79bd4"/>
<path d="M504.6 123.5L506.2 123.6L506.2 145.5L506.7 167.7L507.9 190.1L509.8 212.6L512.4 235.1L515.9 257.6L520.1 280L525.2 302.3L531.1 324.3L537.9 346.2L545.5 367.7L554.1 388.8L563.5 409.6L573.8 429.9L585 449.8L597 469.2L609.8 488L623.5 506.3L637.9 524L653 541.1L668.8 557.5L685.3 573.4L702.4 588.5L720 603.1L738 616.9L756.5 630.1L775.2 642.6L794.3 654.5L813.5 665.6L832.7 676.2L832 677.6L812.7 667L793.5 655.7L774.5 643.8L755.8 631.2L737.4 617.9L719.3 604L701.8 589.4L684.7 574.1L668.3 558.2L652.4 541.7L637.3 524.6L622.9 506.8L609.2 488.5L596.4 469.6L584.3 450.2L573.1 430.3L562.8 409.9L553.3 389.1L544.7 367.9L537 346.4L530.2 324.5L524.2 302.4L519 280.2L514.7 257.7L511.2 235.2L508.5 212.7L506.5 190.2L505.2 167.7L504.6 145.5L504.6 123.5Z" fill="#c4bce6"/>
<path d="M503 123.5L507.1 123.6L507 145.3L507.5 167.3L508.7 189.5L510.7 211.7L513.4 233.9L516.9 256.1L521.3 278.2L526.5 300L532.7 321.6L539.7 342.9L547.7 363.9L556.5 384.4L566.3 404.5L577 424.1L588.6 443.2L601.1 461.7L614.5 479.6L628.6 496.9L643.6 513.5L659.3 529.5L675.7 544.8L692.8 559.4L710.5 573.3L728.7 586.5L747.3 598.9L766.4 610.7L785.8 621.7L805.4 632.1L825.2 641.7L845 650.7L844.5 651.9L824.7 642.9L804.9 633.1L785.3 622.7L765.9 611.6L746.8 599.8L728.1 587.2L709.8 574L692.1 560L675 545.4L658.5 530L642.7 514L627.7 497.3L613.4 480L600 462.1L587.4 443.5L575.7 424.4L564.8 404.8L554.9 384.7L545.8 364.1L537.7 343.1L530.5 321.8L524.2 300.2L518.7 278.3L514.1 256.2L510.4 234L507.5 211.8L505.3 189.5L503.8 167.3L503.1 145.3L503 123.5Z" fill="#6fbf73"/>
<path d="M503 123.5L507.1 123.6L507 145.3L507.5 167.3L508.7 189.5L510.6 211.7L513.4 234L516.9 256.2L521.2 278.3L526.5 300.1L532.6 321.8L539.6 343.1L547.6 364.1L556.4 384.6L566.2 404.8L576.9 424.4L588.5 443.5L600.9 462L614.3 480L628.4 497.3L643.3 514L659 530.1L675.4 545.4L692.5 560.1L710.1 574L728.3 587.3L746.9 599.8L766 611.6L785.3 622.7L804.9 633.1L824.7 642.9L844.5 651.9L842.6 656.1L822.9 646.8L803.2 636.8L783.6 626.2L764.3 614.8L745.3 602.7L726.7 590L708.6 576.5L691 562.3L673.9 547.5L657.6 531.9L641.9 515.7L626.9 498.9L612.7 481.4L599.4 463.3L586.9 444.6L575.2 425.4L564.4 405.6L554.6 385.4L545.6 364.7L537.5 343.7L530.3 322.3L524 300.6L518.6 278.6L514.1 256.5L510.3 234.2L507.4 211.9L505.3 189.6L503.8 167.4L503.1 145.3L503 123.5Z" fill="#675db4"/>
<path d="M502.8 123.5L504.1 123.5L504.1 145.2L504.8 167.2L506.2 189.2L508.4 211.4L511.3 233.5L515.1 255.6L519.6 277.5L525.1 299.2L531.5 320.7L538.8 341.8L547 362.5L556.1 382.8L566.1 402.7L577.1 422L589 440.8L601.7 458.9L615.3 476.5L629.7 493.4L645 509.6L660.9 525.2L677.6 540.1L694.9 554.2L712.9 567.6L731.3 580.3L750.2 592.3L769.5 603.5L789.2 614L809 623.8L829 632.9L849 641.3L848.1 643.5L828.1 634.9L808.2 625.7L788.4 615.8L768.8 605.1L749.5 593.8L730.6 581.7L712.2 568.9L694.3 555.4L677 541.1L660.3 526.2L644.4 510.5L629.1 494.2L614.7 477.2L601.1 459.6L588.4 441.3L576.5 422.5L565.5 403.1L555.4 383.2L546.3 362.9L538.1 342.1L530.7 320.9L524.3 299.4L518.8 277.7L514.1 255.8L510.3 233.7L507.4 211.5L505.1 189.3L503.7 167.2L502.9 145.2L502.8 123.5Z" fill="#8ec4e6"/>
<path d="M500.3 123.5L503.4 123.5L503.5 161L500.2 158Z" fill="#93c3de"/>
<path d="M503.4 123.5L507.7 123.5L508.3 163L503.5 166Z" fill="#5f6a88"/>
</g>
<path d="M518.36 100.32A400.1 400.1 0 0 1 770.61 205.3M778.48 212.73A400.1 400.1 0 0 1 883.9 387.3M886.72 397.39A400.1 400.1 0 0 1 898.81 532.05M897.8 542.86A400.1 400.1 0 0 1 652.92 869.72M643.25 873.58A400.1 400.1 0 0 1 422.63 892.55M413.61 890.66A400.1 400.1 0 0 1 275.11 830.91M265.85 824.42A400.1 400.1 0 0 1 225.86 791.42M218.13 783.95A400.1 400.1 0 0 1 135.33 335.38M140.58 324.23A400.1 400.1 0 0 1 488.93 100.05" stroke="#787878" stroke-width="1.2" fill="none"/>
<path d="M519.31 100.97L519.63 94.37M521.57 101.08L521.93 94.49M523.83 101.21L524.23 94.62M526.09 101.35L526.52 94.77M528.35 101.51L528.82 94.92M530.61 101.67L531.12 95.09M532.87 101.85L533.42 95.28M535.13 102.05L535.71 95.47M537.39 102.25L538.01 95.68M539.64 102.47L540.3 95.9M544.15 102.95L544.88 96.39M546.4 103.2L547.17 96.65M548.65 103.47L549.46 96.92M550.9 103.76L551.74 97.21M553.15 104.05L554.03 97.51M555.39 104.36L556.31 97.82M557.64 104.68L558.59 98.15M559.88 105.01L560.87 98.49M562.12 105.36L563.14 98.84M566.59 106.09L567.69 99.58M568.82 106.47L569.96 99.97M571.05 106.87L572.23 100.37M573.28 107.28L574.49 100.79M575.51 107.7L576.76 101.22M577.73 108.14L579.02 101.66M579.95 108.58L581.28 102.12M582.17 109.04L583.53 102.58M584.39 109.51L585.78 103.06M588.81 110.5L590.28 104.06M591.02 111.01L592.53 104.58M593.23 111.53L594.77 105.11M595.43 112.07L597.01 105.66M597.63 112.61L599.24 106.21M599.82 113.17L601.47 106.78M602.02 113.75L603.7 107.36M604.21 114.33L605.93 107.96M606.39 114.93L608.15 108.57M610.75 116.16L612.58 109.82M612.93 116.79L614.79 110.46M615.1 117.44L617 111.12M617.27 118.1L619.21 111.79M619.43 118.77L621.41 112.47M621.59 119.45L623.6 113.17M623.75 120.15L625.8 113.87M625.9 120.86L627.98 114.59M628.05 121.58L630.17 115.33M632.34 123.06L634.52 116.83M634.47 123.81L636.69 117.6M636.6 124.58L638.86 118.38M638.73 125.36L641.02 119.17M640.85 126.15L643.18 119.98M642.97 126.96L645.33 120.8M645.09 127.78L647.48 121.63M647.2 128.61L649.63 122.47M649.3 129.45L651.77 123.32M653.49 131.16L656.03 125.07M655.58 132.04L658.15 125.96M657.67 132.93L660.27 126.86M659.75 133.83L662.39 127.78M661.82 134.74L664.5 128.71M663.89 135.67L666.6 129.65M665.96 136.6L668.7 130.6M668.01 137.55L670.79 131.56M670.07 138.51L672.88 132.53M674.16 140.46L677.03 134.52M676.19 141.45L679.1 135.53M678.22 142.46L681.17 136.55M680.25 143.47L683.23 137.58M682.27 144.5L685.28 138.63M684.28 145.54L687.33 139.69M686.29 146.59L689.37 140.76M688.29 147.66L691.4 141.84M690.29 148.73L693.43 142.93M694.26 150.91L697.47 145.14M696.24 152.02L699.48 146.27M698.21 153.14L701.48 147.41M700.17 154.27L703.48 148.56M702.13 155.41L705.47 149.72M704.08 156.56L707.45 150.89M706.03 157.72L709.43 152.07M707.96 158.9L711.4 153.26M709.9 160.08L713.36 154.47M713.74 162.49L717.27 156.91M715.65 163.7L719.21 158.15M717.55 164.93L721.15 159.4M719.45 166.17L723.08 160.66M721.34 167.42L725 161.93M723.22 168.68L726.91 163.21M725.1 169.95L728.82 164.5M726.97 171.24L730.72 165.8M728.83 172.53L732.61 167.12M732.53 175.15L736.37 169.78M734.37 176.47L738.24 171.13M736.2 177.8L740.1 172.48M738.02 179.15L741.96 173.85M739.84 180.51L743.8 175.23M741.65 181.87L745.64 176.61M743.45 183.25L747.47 178.01M745.24 184.63L749.29 179.42M747.03 186.03L751.11 180.84M750.57 188.85L754.71 183.71M752.33 190.28L756.5 185.16M754.09 191.71L758.28 186.62M755.83 193.16L760.06 188.09M757.57 194.62L761.82 189.57M759.3 196.08L763.58 191.06M761.02 197.56L765.33 192.56M762.73 199.04L767.07 194.07M764.43 200.54L768.8 195.59M767.81 203.56L772.23 198.66M769.49 205.08L773.94 200.21M778.77 213.84L783.37 209.11M780.39 215.42L785.02 210.72M782 217.02L786.65 212.34M783.6 218.62L788.28 213.97M785.19 220.24L789.9 215.61M786.77 221.86L791.51 217.26M788.34 223.49L793.11 218.92M789.91 225.13L794.7 220.59M791.46 226.78L796.28 222.26M793.01 228.44L797.85 223.95M796.07 231.78L800.96 227.35M797.59 233.46L802.5 229.06M799.09 235.15L804.03 230.78M800.59 236.85L805.56 232.51M802.08 238.56L807.07 234.24M803.56 240.28L808.57 235.99M805.02 242.01L810.06 237.74M806.48 243.74L811.55 239.51M807.93 245.48L813.02 241.28M810.8 248.99L815.93 244.85M812.22 250.76L817.38 246.64M813.63 252.54L818.81 248.45M815.02 254.32L820.23 250.26M816.41 256.11L821.64 252.08M817.79 257.91L823.04 253.91M819.16 259.71L824.43 255.74M820.52 261.53L825.81 257.59M821.87 263.35L827.18 259.44M824.53 267.02L829.89 263.17M825.85 268.86L831.23 265.04M827.15 270.71L832.56 266.93M828.45 272.57L833.87 268.82M829.73 274.44L835.18 270.71M831.01 276.31L836.47 272.62M832.27 278.19L837.76 274.53M833.52 280.08L839.03 276.45M834.76 281.98L840.29 278.38M837.22 285.79L842.79 282.25M838.43 287.71L844.02 284.2M839.62 289.63L845.23 286.15M840.81 291.56L846.44 288.12M841.99 293.5L847.64 290.08M843.15 295.44L848.82 292.06M844.31 297.39L850 294.04M845.45 299.34L851.16 296.03M846.59 301.31L852.31 298.03M848.82 305.25L854.58 302.03M849.92 307.23L855.7 304.05M851 309.22L856.8 306.07M852.08 311.22L857.9 308.1M853.15 313.22L858.98 310.13M854.2 315.22L860.05 312.17M855.24 317.23L861.11 314.21M856.27 319.25L862.16 316.27M857.29 321.28L863.2 318.32M859.3 325.34L865.23 322.46M860.28 327.38L866.23 324.53M861.26 329.43L867.22 326.61M862.22 331.48L868.2 328.7M863.17 333.54L869.17 330.79M864.11 335.6L870.12 332.88M865.03 337.67L871.06 334.99M865.95 339.74L871.99 337.09M866.85 341.82L872.91 339.21M868.62 345.99L874.71 343.45M869.49 348.08L875.59 345.58M870.34 350.18L876.46 347.71M871.19 352.29L877.32 349.85M872.02 354.39L878.17 351.99M872.84 356.51L879 354.14M873.65 358.62L879.82 356.29M874.44 360.75L880.63 358.44M875.23 362.87L881.43 360.61M876.76 367.14L882.98 364.94M877.51 369.28L883.74 367.12M878.24 371.42L884.49 369.3M878.97 373.57L885.23 371.48M879.68 375.72L885.95 373.67M880.38 377.87L886.66 375.86M881.06 380.03L887.36 378.05M881.74 382.2L888.04 380.25M882.4 384.36L888.72 382.45M886.39 398.49L892.77 396.81M886.96 400.68L893.35 399.04M887.51 402.88L893.92 401.27M888.06 405.08L894.47 403.51M888.59 407.28L895.01 405.75M889.11 409.49L895.54 407.99M889.62 411.7L896.06 410.24M890.11 413.91L896.56 412.48M890.6 416.12L897.05 414.74M891.06 418.34L897.53 416.99M891.97 422.78L898.44 421.5M892.4 425L898.88 423.77M892.82 427.23L899.31 426.03M893.22 429.46L899.72 428.3M893.62 431.69L900.12 430.56M894 433.93L900.51 432.83M894.37 436.16L900.88 435.11M894.72 438.4L901.24 437.38M895.07 440.64L901.59 439.66M895.71 445.13L902.25 444.22M896.02 447.37L902.56 446.5M896.31 449.62L902.86 448.79M896.59 451.87L903.14 451.07M896.86 454.12L903.41 453.36M897.11 456.37L903.67 455.65M897.35 458.62L903.92 457.94M897.58 460.88L904.15 460.23M897.8 463.13L904.37 462.52M898.19 467.65L904.77 467.11M898.36 469.91L904.95 469.41M898.53 472.17L905.11 471.71M898.68 474.43L905.27 474.01M898.82 476.69L905.41 476.3M898.95 478.95L905.54 478.6M899.06 481.22L905.65 480.91M899.16 483.48L905.75 483.21M899.25 485.74L905.84 485.51M899.38 490.27L905.98 490.11M899.43 492.54L906.03 492.42M899.47 494.81L906.07 494.72M899.49 497.07L906.09 497.02M899.5 499.34L906.1 499.33M899.5 501.6L906.1 501.63M899.48 503.87L906.08 503.93M899.45 506.14L906.05 506.24M899.41 508.4L906.01 508.54M899.29 512.93L905.89 513.15M899.21 515.2L905.81 515.45M899.12 517.46L905.71 517.75M899.01 519.72L905.6 520.05M898.89 521.99L905.48 522.35M898.76 524.25L905.35 524.65M898.62 526.51L905.2 526.95M898.46 528.77L905.05 529.25M898.29 531.03L904.87 531.54M897.1 543.77L903.66 544.49M896.84 546.02L903.4 546.78M896.57 548.27L903.12 549.07M896.29 550.52L902.84 551.35M896 552.77L902.54 553.64M895.69 555.01L902.23 555.92M895.38 557.26L901.91 558.2M895.04 559.5L901.57 560.48M894.7 561.74L901.22 562.76M894.34 563.98L900.86 565.03M893.59 568.45L900.1 569.58M893.2 570.68L899.69 571.84M892.79 572.91L899.28 574.11M892.37 575.13L898.85 576.37M891.94 577.36L898.41 578.64M891.49 579.58L897.96 580.89M891.04 581.8L897.5 583.15M890.57 584.02L897.02 585.4M890.08 586.23L896.53 587.65M889.08 590.65L895.51 592.15M888.56 592.85L894.98 594.39M888.03 595.06L894.44 596.63M887.48 597.26L893.88 598.86M886.92 599.45L893.32 601.1M886.35 601.65L892.74 603.33M885.77 603.84L892.14 605.55M885.17 606.02L891.54 607.77M884.57 608.21L890.92 609.99M883.31 612.56L889.65 614.42M882.67 614.73L888.99 616.63M882.01 616.9L888.32 618.83M881.34 619.07L887.64 621.03M880.66 621.23L886.95 623.23M879.97 623.39L886.25 625.42M879.26 625.54L885.53 627.61M878.54 627.69L884.8 629.8M877.81 629.83L884.06 631.98M876.32 634.11L882.53 636.33M875.55 636.24L881.75 638.49M874.77 638.37L880.96 640.66M873.98 640.5L880.16 642.82M873.18 642.61L879.34 644.97M872.36 644.73L878.51 647.12M871.54 646.84L877.67 649.26M870.7 648.94L876.82 651.4M869.85 651.04L875.96 653.54M868.11 655.23L874.19 657.79M867.22 657.32L873.29 659.91M866.32 659.4L872.38 662.03M865.41 661.47L871.45 664.14M864.49 663.54L870.51 666.24M863.56 665.61L869.56 668.34M862.61 667.67L868.6 670.44M861.66 669.72L867.63 672.52M860.69 671.77L866.65 674.61M858.72 675.85L864.64 678.75M857.71 677.88L863.62 680.82M856.7 679.91L862.59 682.88M855.67 681.93L861.55 684.93M854.63 683.94L860.49 686.98M853.59 685.95L859.43 689.02M852.52 687.95L858.35 691.06M851.45 689.95L857.26 693.09M850.37 691.94L856.16 695.11M848.17 695.9L853.92 699.14M847.05 697.88L852.79 701.14M845.92 699.84L851.64 703.14M844.79 701.8L850.48 705.13M843.64 703.75L849.31 707.12M842.47 705.7L848.13 709.1M841.3 707.64L846.94 711.07M840.12 709.57L845.74 713.03M838.92 711.5L844.52 714.99M836.5 715.33L842.06 718.88M835.28 717.23L840.82 720.82M834.04 719.13L839.56 722.75M832.79 721.02L838.29 724.67M831.53 722.91L837.01 726.59M830.26 724.78L835.72 728.5M828.98 726.65L834.42 730.4M827.69 728.52L833.1 732.29M826.39 730.37L831.78 734.18M823.75 734.06L829.1 737.92M822.42 735.89L827.75 739.79M821.08 737.72L826.38 741.64M819.73 739.53L825.01 743.49M818.36 741.34L823.62 745.33M816.99 743.14L822.22 747.16M815.6 744.94L820.82 748.99M814.21 746.73L819.4 750.8M812.8 748.5L817.97 752.61M809.96 752.04L815.09 756.2M808.53 753.79L813.63 757.98M807.09 755.54L812.16 759.76M805.63 757.27L810.68 761.52M804.17 759L809.19 763.28M802.69 760.72L807.69 765.03M801.21 762.44L806.19 766.77M799.72 764.14L804.67 768.51M798.21 765.84L803.14 770.23M795.18 769.2L800.05 773.65M793.65 770.87L798.5 775.35M792.1 772.53L796.93 777.04M790.55 774.19L795.35 778.72M788.99 775.83L793.77 780.39M787.42 777.47L792.17 782.05M785.85 779.09L790.57 783.7M784.26 780.71L788.95 785.35M782.66 782.32L787.33 786.98M779.44 785.51L784.06 790.22M777.82 787.09L782.41 791.83M776.18 788.66L780.75 793.43M774.54 790.22L779.08 795.01M772.89 791.77L777.4 796.59M771.23 793.31L775.71 798.16M769.56 794.85L774.02 799.72M767.89 796.37L772.31 801.27M766.2 797.89L770.6 802.81M762.81 800.89L767.15 805.86M761.09 802.37L765.41 807.37M759.37 803.85L763.66 808.87M757.65 805.32L761.9 810.36M755.91 806.77L760.14 811.84M754.17 808.22L758.37 813.31M752.41 809.66L756.58 814.77M750.65 811.08L754.8 816.22M748.89 812.5L753 817.66M745.32 815.3L749.38 820.51M743.53 816.69L747.56 821.92M741.73 818.07L745.73 823.32M739.92 819.43L743.89 824.71M738.11 820.79L742.04 826.09M736.28 822.13L740.19 827.46M734.45 823.47L738.33 828.81M732.61 824.79L736.46 830.16M730.77 826.11L734.58 831.49M727.05 828.7L730.81 834.13M725.19 829.99L728.91 835.44M723.31 831.26L727 836.73M721.43 832.52L725.09 838.01M719.54 833.77L723.17 839.29M717.64 835.01L721.24 840.55M715.74 836.24L719.3 841.79M713.83 837.46L717.36 843.03M711.91 838.67L715.41 844.26M708.05 841.05L711.49 846.68M706.12 842.22L709.52 847.88M704.17 843.39L707.54 849.06M702.22 844.54L705.56 850.23M700.26 845.68L703.57 851.39M698.3 846.81L701.58 852.54M696.33 847.93L699.57 853.68M694.35 849.04L697.56 854.8M692.37 850.13L695.55 855.92M688.38 852.29L691.5 858.11M686.38 853.36L689.46 859.2M684.38 854.41L687.42 860.26M682.36 855.45L685.38 861.32M680.34 856.48L683.32 862.37M678.32 857.5L681.26 863.4M676.29 858.5L679.2 864.42M674.25 859.5L677.13 865.43M672.21 860.48L675.05 866.43M668.11 862.41L670.89 868.4M666.05 863.36L668.79 869.36M663.99 864.29L666.7 870.31M661.92 865.22L664.59 871.25M659.84 866.13L662.48 872.18M657.76 867.03L660.37 873.09M655.68 867.92L658.25 874M653.59 868.8L656.13 874.89M642.13 873.36L644.47 879.53M640.01 874.16L642.32 880.35M637.88 874.95L640.16 881.15M635.75 875.73L637.99 881.94M633.62 876.49L635.83 882.71M631.48 877.24L633.65 883.48M629.34 877.98L631.48 884.23M627.19 878.71L629.29 884.97M625.04 879.43L627.11 885.7M622.89 880.13L624.92 886.41M618.57 881.5L620.53 887.8M616.4 882.17L618.33 888.48M614.23 882.82L616.12 889.14M612.06 883.46L613.91 889.8M609.88 884.09L611.7 890.44M607.7 884.71L609.48 891.06M605.52 885.31L607.26 891.68M603.33 885.91L605.04 892.28M601.14 886.49L602.81 892.87M596.75 887.61L598.35 894.01M594.55 888.15L596.11 894.56M592.35 888.68L593.87 895.1M590.14 889.2L591.63 895.63M587.93 889.7L589.38 896.14M585.72 890.2L587.13 896.64M583.5 890.68L584.88 897.13M581.29 891.14L582.63 897.6M579.07 891.6L580.37 898.07M574.62 892.47L575.85 898.95M572.39 892.89L573.59 899.38M570.16 893.29L571.32 899.79M567.93 893.68L569.05 900.19M565.7 894.06L566.78 900.57M563.46 894.43L564.51 900.94M561.22 894.78L562.23 901.3M558.98 895.12L559.96 901.65M556.74 895.45L557.68 901.98M552.25 896.07L553.11 902.61M550 896.36L550.83 902.91M547.75 896.64L548.54 903.19M545.5 896.9L546.25 903.46M543.25 897.15L543.96 903.71M541 897.39L541.67 903.96M538.74 897.62L539.38 904.19M536.49 897.83L537.09 904.4M534.23 898.03L534.79 904.61M529.71 898.39L530.2 904.98M527.45 898.56L527.9 905.14M525.19 898.71L525.61 905.29M522.93 898.84L523.31 905.43M520.66 898.97L521.01 905.56M518.4 899.08L518.71 905.67M516.14 899.17L516.4 905.77M513.87 899.26L514.1 905.86M511.61 899.33L511.8 905.93M507.08 899.44L507.19 906.04M504.81 899.47L504.89 906.07M502.54 899.49L502.59 906.09M500.28 899.5L500.28 906.1M498.01 899.5L497.98 906.09M495.75 899.48L495.68 906.08M493.48 899.45L493.37 906.05M491.22 899.4L491.07 906M488.95 899.35L488.77 905.94M484.42 899.2L484.16 905.79M482.16 899.1L481.86 905.69M479.89 898.99L479.56 905.59M477.63 898.87L477.26 905.46M475.37 898.74L474.96 905.33M473.11 898.59L472.66 905.18M470.85 898.43L470.36 905.02M468.59 898.26L468.07 904.84M466.33 898.08L465.77 904.65M461.81 897.67L461.18 904.24M459.56 897.45L458.89 904.01M457.3 897.21L456.6 903.77M455.05 896.96L454.31 903.52M452.8 896.7L452.02 903.26M450.55 896.43L449.74 902.98M448.3 896.14L447.45 902.69M446.06 895.84L445.17 902.38M443.81 895.53L442.89 902.06M439.33 894.87L438.33 901.39M437.09 894.52L436.05 901.03M434.85 894.15L433.78 900.66M432.62 893.78L431.51 900.28M430.39 893.39L429.24 899.89M428.16 892.99L426.97 899.48M425.93 892.57L424.71 899.06M423.7 892.15L422.44 898.63M412.78 889.86L411.34 896.3M410.57 889.36L409.1 895.8M408.37 888.85L406.85 895.27M406.16 888.32L404.61 894.74M403.96 887.78L402.37 894.19M401.76 887.23L400.14 893.63M399.57 886.67L397.91 893.06M397.38 886.09L395.68 892.47M395.19 885.51L393.46 891.87M393 884.91L391.24 891.26M388.64 883.67L386.8 890M386.47 883.03L384.59 889.36M384.3 882.38L382.39 888.7M382.13 881.72L380.18 888.02M379.97 881.04L377.98 887.34M377.81 880.35L375.79 886.64M375.65 879.66L373.6 885.93M373.5 878.94L371.41 885.2M371.35 878.22L369.23 884.47M367.07 876.74L364.88 882.96M364.94 875.98L362.71 882.19M362.81 875.2L360.54 881.4M360.68 874.42L358.38 880.61M358.56 873.62L356.22 879.8M356.44 872.82L354.07 878.97M354.33 871.99L351.92 878.14M352.22 871.16L349.78 877.29M350.12 870.32L347.64 876.44M345.93 868.59L343.38 874.68M343.84 867.71L341.26 873.79M341.76 866.82L339.14 872.88M339.68 865.92L337.03 871.96M337.6 865L334.92 871.03M335.54 864.08L332.82 870.09M333.47 863.14L330.72 869.14M331.42 862.19L328.63 868.17M329.37 861.23L326.55 867.19M325.28 859.27L322.39 865.2M323.24 858.27L320.32 864.19M321.21 857.26L318.26 863.16M319.19 856.24L316.2 862.13M317.17 855.21L314.15 861.08M315.16 854.17L312.11 860.02M313.15 853.11L310.07 858.95M311.15 852.05L308.03 857.86M309.16 850.97L306.01 856.77M305.19 848.78L301.97 854.55M303.22 847.67L299.97 853.42M301.25 846.55L297.96 852.28M299.28 845.42L295.97 851.12M297.33 844.27L293.98 849.96M295.38 843.12L292 848.79M293.44 841.95L290.02 847.6M291.5 840.78L288.06 846.41M289.57 839.59L286.09 845.2M285.73 837.18L282.19 842.75M283.82 835.96L280.25 841.51M281.92 834.73L278.32 840.26M280.02 833.48L276.39 838.99M278.14 832.23L274.47 837.72M276.26 830.97L272.56 836.43M265.41 823.37L261.53 828.71M263.58 822.03L259.67 827.35M261.75 820.68L257.82 825.98M259.94 819.33L255.97 824.6M258.13 817.96L254.13 823.21M256.33 816.58L252.3 821.81M254.54 815.2L250.48 820.4M252.75 813.8L248.67 818.98M250.98 812.39L246.86 817.55M249.21 810.97L245.07 816.11M245.7 808.11L241.5 813.2M243.95 806.66L239.72 811.73M242.22 805.2L237.96 810.25M240.49 803.74L236.21 808.75M238.77 802.26L234.46 807.25M237.06 800.77L232.72 805.74M235.36 799.28L230.99 804.22M233.67 797.77L229.27 802.69M231.98 796.26L227.56 801.15M228.64 793.2L224.16 798.04M226.98 791.65L222.47 796.47M217.86 782.83L213.19 787.51M216.26 781.23L211.57 785.88M214.67 779.62L209.95 784.23M213.08 777.99L208.34 782.58M211.51 776.36L206.75 780.93M209.95 774.72L205.16 779.26M208.4 773.07L203.58 777.58M206.85 771.41L202.01 775.9M205.32 769.74L200.45 774.2M203.79 768.07L198.9 772.5M200.77 764.69L195.83 769.06M199.27 762.99L194.3 767.33M197.79 761.28L192.79 765.6M196.31 759.56L191.29 763.85M194.84 757.83L189.8 762.09M193.38 756.1L188.32 760.33M191.94 754.36L186.85 758.56M190.5 752.6L185.38 756.78M189.07 750.84L183.93 754.99M186.24 747.3L181.06 751.39M184.85 745.52L179.64 749.57M183.46 743.73L178.23 747.75M182.08 741.93L176.83 745.92M180.71 740.12L175.44 744.09M179.36 738.3L174.06 742.24M178.01 736.48L172.69 740.39M176.67 734.65L171.33 738.53M175.35 732.81L169.99 736.66M172.73 729.12L167.32 732.9M171.43 727.26L166.01 731.01M170.15 725.39L164.7 729.11M168.88 723.51L163.41 727.21M167.61 721.63L162.12 725.29M166.36 719.74L160.85 723.37M165.12 717.85L159.59 721.45M163.89 715.94L158.34 719.51M162.67 714.03L157.1 717.57M160.27 710.19L154.65 713.67M159.08 708.26L153.45 711.7M157.9 706.33L152.25 709.73M156.74 704.38L151.07 707.76M155.58 702.43L149.89 705.78M154.44 700.47L148.73 703.79M153.31 698.51L147.58 701.79M152.19 696.54L146.44 699.79M151.08 694.57L145.32 697.78M148.9 690.59L143.1 693.74M147.82 688.6L142 691.72M146.76 686.6L140.92 689.68M145.7 684.59L139.85 687.64M144.66 682.58L138.79 685.6M143.63 680.56L137.74 683.54M142.61 678.54L136.71 681.49M141.61 676.51L135.69 679.42M140.61 674.47L134.67 677.35M138.66 670.38L132.69 673.2M137.69 668.33L131.71 671.11M136.75 666.27L130.74 669.02M135.81 664.21L129.79 666.92M134.88 662.14L128.85 664.82M133.97 660.07L127.92 662.71M133.07 657.99L127 660.6M132.18 655.9L126.1 658.48M131.3 653.82L125.21 656.36M129.58 649.62L123.46 652.09M128.73 647.52L122.6 649.96M127.9 645.41L121.76 647.81M127.08 643.3L120.92 645.67M126.28 641.18L120.1 643.51M125.48 639.06L119.3 641.36M124.7 636.93L118.5 639.19M123.93 634.8L117.72 637.03M123.17 632.67L116.95 634.86M121.69 628.38L115.44 630.5M120.97 626.23L114.71 628.32M120.26 624.08L113.98 626.13M119.56 621.93L113.28 623.94M118.87 619.77L112.58 621.74M118.2 617.6L111.89 619.55M117.54 615.43L111.22 617.34M116.89 613.26L110.56 615.13M116.26 611.09L109.92 612.92M115.02 606.73L108.66 608.49M114.42 604.54L108.05 606.27M113.83 602.35L107.45 604.04M113.26 600.16L106.87 601.82M112.7 597.97L106.3 599.58M112.15 595.77L105.74 597.35M111.61 593.57L105.2 595.11M111.09 591.36L104.66 592.87M110.58 589.15L104.14 590.63M109.59 584.73L103.14 586.13M109.11 582.52L102.66 583.88M108.65 580.3L102.19 581.62M108.2 578.08L101.73 579.37M107.77 575.85L101.29 577.1M107.34 573.63L100.86 574.84M106.93 571.4L100.44 572.58M106.53 569.17L100.03 570.31M106.15 566.93L99.64 568.04M105.41 562.46L98.89 563.49M105.07 560.22L98.54 561.22M104.73 557.98L98.2 558.94M104.41 555.74L97.87 556.66M104.1 553.49L97.56 554.38M103.8 551.25L97.26 552.09M103.52 549L96.97 549.81M103.24 546.75L96.69 547.52M102.99 544.5L96.43 545.23M102.51 539.99L95.94 540.65M102.29 537.74L95.72 538.36M102.08 535.48L95.5 536.06M101.88 533.22L95.31 533.77M101.7 530.96L95.12 531.47M101.53 528.7L94.95 529.18M101.38 526.44L94.79 526.88M101.23 524.18L94.64 524.58M101.1 521.92L94.51 522.28M100.88 517.39L94.28 517.68M100.79 515.13L94.19 515.38M100.71 512.86L94.11 513.07M100.64 510.6L94.04 510.77M100.59 508.33L93.99 508.47M100.55 506.07L93.95 506.17M100.52 503.8L93.92 503.86M100.5 501.53L93.9 501.56M100.5 499.27L93.9 499.26M100.53 494.74L93.94 494.65M100.57 492.47L93.97 492.35M100.62 490.2L94.02 490.04M100.68 487.94L94.09 487.74M100.76 485.67L94.16 485.44M100.84 483.41L94.25 483.14M100.95 481.15L94.35 480.83M101.06 478.88L94.47 478.53M101.18 476.62L94.6 476.23M101.48 472.1L94.89 471.64M101.64 469.84L95.06 469.34M101.82 467.58L95.24 467.04M102.01 465.32L95.43 464.75M102.21 463.06L95.64 462.45M102.43 460.81L95.86 460.16M102.66 458.55L96.09 457.87M102.9 456.3L96.34 455.58M103.15 454.05L96.6 453.29M103.7 449.55L97.15 448.72M103.99 447.3L97.45 446.43M104.3 445.06L97.76 444.15M104.61 442.81L98.08 441.87M104.95 440.57L98.42 439.59M105.29 438.33L98.77 437.31M105.64 436.09L99.13 435.04M106.01 433.86L99.5 432.76M106.39 431.62L99.89 430.49M107.2 427.16L100.71 425.96M107.62 424.94L101.13 423.7M108.05 422.71L101.57 421.43M108.49 420.49L102.02 419.18M108.95 418.27L102.49 416.92M109.42 416.05L102.97 414.67M109.9 413.84L103.46 412.42M110.4 411.63L103.96 410.17M110.9 409.42L104.48 407.92M111.96 405.01L105.55 403.44M112.5 402.81L106.1 401.21M113.06 400.61L106.67 398.97M113.63 398.42L107.25 396.74M114.21 396.23L107.84 394.52M114.81 394.04L108.44 392.29M115.41 391.86L109.06 390.08M116.03 389.68L109.69 387.86M116.67 387.51L110.33 385.65M117.97 383.16L111.66 381.23M118.64 381L112.33 379.03M119.32 378.84L113.03 376.84M120.01 376.68L113.73 374.64M120.72 374.53L114.45 372.45M121.43 372.38L115.18 370.27M122.16 370.23L115.92 368.09M122.91 368.09L116.68 365.91M123.66 365.95L117.44 363.74M125.2 361.69L119.01 359.41M126 359.57L119.82 357.25M126.8 357.45L120.63 355.1M127.61 355.34L121.46 352.95M128.44 353.23L122.3 350.8M129.28 351.12L123.15 348.66M130.13 349.02L124.02 346.53M130.99 346.92L124.89 344.4M131.86 344.83L125.78 342.27M133.65 340.67L127.6 338.04M134.56 338.59L128.52 335.93M135.48 336.52L129.46 333.82M141.55 323.62L135.62 320.7M142.55 321.59L136.65 318.64M143.57 319.56L137.68 316.58M144.6 317.54L138.73 314.53M145.64 315.53L139.78 312.48M146.69 313.52L140.85 310.44M147.75 311.52L141.94 308.41M148.83 309.53L143.03 306.38M149.92 307.54L144.13 304.36M151.01 305.56L145.25 302.34M153.24 301.61L147.51 298.33M154.37 299.65L148.66 296.34M155.51 297.69L149.82 294.35M156.67 295.74L151 292.36M157.83 293.79L152.18 290.39M159.01 291.86L153.37 288.42M160.19 289.93L154.58 286.46M161.39 288L155.8 284.5M162.6 286.08L157.02 282.55M165.05 282.27L159.51 278.67M166.29 280.37L160.77 276.75M167.54 278.48L162.05 274.83M168.8 276.6L163.33 272.91M170.07 274.73L164.62 271.01M171.36 272.86L165.93 269.11M172.65 271L167.24 267.22M173.95 269.15L168.57 265.33M175.27 267.3L169.9 263.46M177.93 263.63L172.61 259.73M179.27 261.81L173.98 257.87M180.63 259.99L175.35 256.03M182 258.19L176.74 254.19M183.37 256.39L178.14 252.36M184.76 254.59L179.55 250.54M186.16 252.81L180.97 248.73M187.57 251.03L182.4 246.92M188.98 249.26L183.84 245.12M191.85 245.75L186.76 241.55M193.29 244.01L188.23 239.78M194.75 242.27L189.71 238.01M196.22 240.55L191.2 236.26M197.69 238.83L192.7 234.51M199.18 237.12L194.21 232.77M200.68 235.41L195.73 231.04M202.18 233.72L197.26 229.32M203.7 232.04L198.8 227.61M206.76 228.69L201.91 224.21M208.3 227.03L203.48 222.52M209.85 225.38L205.06 220.85M211.42 223.74L206.65 219.18M212.99 222.11L208.25 217.52M214.57 220.48L209.85 215.87M216.16 218.87L211.47 214.23M217.76 217.26L213.09 212.59M219.37 215.67L214.73 210.97M222.61 212.5L218.03 207.75M224.24 210.93L219.69 206.16M225.89 209.37L221.36 204.57M227.54 207.82L223.04 203M229.2 206.28L224.73 201.43M230.87 204.75L226.43 199.87M232.55 203.23L228.13 198.33M234.24 201.72L229.85 196.79M235.94 200.22L231.57 195.26M239.35 197.24L235.05 192.24M241.08 195.77L236.8 190.74M242.81 194.3L238.56 189.25M244.54 192.85L240.32 187.77M246.29 191.4L242.1 186.31M248.05 189.97L243.88 184.85M249.81 188.55L245.67 183.4M251.58 187.13L247.47 181.96M253.36 185.73L249.28 180.54M256.94 182.95L252.92 177.71M258.74 181.58L254.75 176.32M260.55 180.21L256.59 174.93M262.37 178.86L258.44 173.55M264.19 177.52L260.3 172.19M266.03 176.18L262.16 170.83M267.87 174.86L264.03 169.49M269.72 173.55L265.91 168.16M271.57 172.25L267.8 166.83M275.3 169.68L271.59 164.22M277.18 168.41L273.5 162.93M279.07 167.15L275.42 161.65M280.96 165.9L277.34 160.38M282.86 164.67L279.27 159.13M284.76 163.44L281.21 157.88M286.67 162.22L283.15 156.64M288.59 161.02L285.1 155.42M290.52 159.83L287.06 154.21M294.39 157.47L290.99 151.81M296.34 156.31L292.97 150.63M298.29 155.16L294.96 149.46M300.25 154.02L296.95 148.31M302.22 152.9L298.95 147.16M304.19 151.78L300.95 146.03M306.17 150.67L302.96 144.9M308.15 149.58L304.98 143.79M310.14 148.5L307 142.69M314.14 146.37L311.07 140.52M316.15 145.32L313.11 139.46M318.17 144.28L315.16 138.4M320.19 143.25L317.22 137.36M322.21 142.24L319.27 136.33M324.24 141.24L321.34 135.31M326.28 140.25L323.41 134.3M328.33 139.27L325.49 133.31M330.37 138.3L327.57 132.32M334.49 136.4L331.75 130.39M336.55 135.47L333.85 129.44M338.62 134.54L335.96 128.51M340.7 133.63L338.07 127.58M342.78 132.74L340.18 126.67M344.87 131.85L342.3 125.77M346.96 130.98L344.43 124.88M349.05 130.11L346.56 124M351.15 129.26L348.69 123.14M355.37 127.6L352.98 121.45M357.48 126.79L355.13 120.62M359.6 125.98L357.28 119.8M361.73 125.19L359.44 119M363.85 124.41L361.61 118.21M365.99 123.65L363.77 117.43M368.12 122.89L365.95 116.66M370.27 122.15L368.12 115.91M372.41 121.42L370.3 115.17M376.71 120L374.68 113.72M378.87 119.31L376.87 113.02M381.03 118.62L379.07 112.32M383.2 117.96L381.27 111.64M385.37 117.3L383.47 110.98M387.54 116.66L385.68 110.32M389.72 116.02L387.89 109.68M391.9 115.4L390.11 109.05M394.08 114.8L392.33 108.43M398.46 113.62L396.78 107.24M400.65 113.05L399.01 106.66M402.84 112.49L401.24 106.09M405.04 111.95L403.48 105.54M407.25 111.42L405.71 105M409.45 110.9L407.96 104.47M411.66 110.39L410.2 103.95M413.87 109.89L412.45 103.45M416.09 109.41L414.7 102.96M420.52 108.49L419.21 102.02M422.75 108.04L421.47 101.57M424.97 107.61L423.73 101.13M427.2 107.19L425.99 100.7M429.43 106.78L428.26 100.29M431.66 106.39L430.53 99.89M433.89 106.01L432.8 99.5M436.13 105.64L435.07 99.12M438.37 105.28L437.35 98.76M442.85 104.61L441.9 98.08M445.09 104.29L444.18 97.75M447.34 103.99L446.47 97.44M449.58 103.69L448.75 97.15M451.83 103.41L451.04 96.86M454.08 103.15L453.32 96.59M456.33 102.89L455.61 96.33M458.59 102.65L457.9 96.09M460.84 102.42L460.2 95.86M465.35 102.01L464.78 95.43M467.61 101.81L467.08 95.24M469.87 101.64L469.37 95.06M472.13 101.47L471.67 94.89M474.39 101.32L473.97 94.74M476.66 101.18L476.27 94.59M478.92 101.06L478.57 94.47M481.18 100.94L480.87 94.35M483.44 100.84L483.17 94.25M487.97 100.68L487.78 94.08" stroke="#787878" stroke-width="1.75" fill="none"/>
<rect x="501.2" y="93.7" width="5.6" height="6.8" fill="#787878"/>
<g stroke="#777" stroke-width="1.2">
<path d="M500.35 100.5A399.5 399.5 0 0 1 507.67 100.57L507.29 120.57A379.5 379.5 0 0 0 500.33 120.5Z" fill="#9ecae1"/>
<path d="M519.31 100.97A399.5 399.5 0 0 1 770.41 205.93L756.87 220.65A379.5 379.5 0 0 0 518.34 120.94Z" fill="#fff68f"/>
<path d="M778.77 213.84A399.5 399.5 0 0 1 883.15 386.87L863.97 392.53A379.5 379.5 0 0 0 764.81 228.16Z" fill="#a1d99b"/>
<path d="M886.39 398.49A399.5 399.5 0 0 1 898.21 532.04L878.28 530.44A379.5 379.5 0 0 0 867.04 403.57Z" fill="#bcbddc"/>
<path d="M897.1 543.77A399.5 399.5 0 0 1 653.2 868.96L645.53 850.49A379.5 379.5 0 0 0 877.22 541.58Z" fill="#fdae6b"/>
<path d="M642.13 873.36A399.5 399.5 0 0 1 423.29 892.07L427.13 872.44A379.5 379.5 0 0 0 635.01 854.67Z" fill="#bdbdbd"/>
<path d="M412.78 889.86A399.5 399.5 0 0 1 274.58 829.83L285.87 813.32A379.5 379.5 0 0 0 417.15 870.35Z" fill="#6b9fd0"/>
<path d="M265.41 823.37A399.5 399.5 0 0 1 226.68 791.37L240.36 776.78A379.5 379.5 0 0 0 277.15 807.18Z" fill="#ede15b"/>
<path d="M217.86 782.83A399.5 399.5 0 0 1 136.38 334.52L154.59 342.8A379.5 379.5 0 0 0 231.98 768.67Z" fill="#6cb488"/>
<path d="M141.55 323.62A399.5 399.5 0 0 1 488.64 100.66L489.21 120.65A379.5 379.5 0 0 0 159.49 332.45Z" fill="#9e8ac4"/>
</g>
<path d="M541.9 102.7L543.63 86.29M564.35 105.72L567.01 89.43M586.6 110L590.18 93.89M608.57 115.54L613.06 99.66M630.2 122.31L635.57 106.71M651.4 130.3L657.65 115.03M672.12 139.48L679.22 124.59M692.28 149.81L700.22 135.35M711.82 161.28L720.57 147.29M730.68 173.83L740.21 160.36M748.8 187.43L759.08 174.53M766.12 202.04L777.12 189.74M794.54 230.1L806.71 218.95M809.37 247.23L822.15 236.79M823.2 265.18L836.55 255.48M836 283.88L849.87 274.95M847.71 303.28L862.07 295.15M858.3 323.31L873.1 316.01M867.74 343.9L882.93 337.46M876 365L891.53 359.43M883.05 386.54L898.87 381.85M891.52 420.56L907.69 417.28M895.4 442.88L911.73 440.52M898 465.39L914.44 463.96M899.32 488.01L915.81 487.51M899.36 510.67L915.85 511.11M893.97 566.21L910.25 568.95M889.59 588.44L905.68 592.09M883.95 610.39L899.8 614.94M877.07 631.97L892.65 637.43M868.98 653.14L884.22 659.46M859.71 673.81L874.56 680.99M849.28 693.93L863.7 701.93M837.72 713.41L851.67 722.23M825.08 732.22L838.5 741.81M811.39 750.27L824.25 760.61M796.7 767.52L808.95 778.57M781.06 783.92L792.66 795.64M764.51 799.39L775.43 811.76M747.11 813.91L757.31 826.87M728.92 827.41L738.37 840.93M709.99 839.86L718.66 853.9M690.38 851.22L698.24 865.73M670.16 861.45L677.19 876.38M620.73 880.82L625.72 896.55M598.95 887.05L603.03 903.04M576.84 892.04L580.02 908.23M554.49 895.77L556.75 912.11M531.97 898.22L533.29 914.67M509.34 899.39L509.73 915.89M486.68 899.28L486.13 915.77M464.07 897.88L462.59 914.31M441.57 895.2L439.16 911.53M390.82 884.29L386.31 900.16M369.21 877.48L363.81 893.07M348.02 869.46L341.74 884.72M327.32 860.25L320.19 875.13M307.17 849.88L299.21 864.33M287.65 838.39L278.88 852.36M247.45 809.55L237.02 822.33M230.31 794.73L219.17 806.9M202.28 766.38L189.98 777.39M187.65 749.08L174.75 759.36M174.03 730.97L160.57 740.51M161.46 712.12L147.48 720.88M149.98 692.58L135.53 700.54M139.63 672.43L124.74 679.55M130.43 651.72L115.17 657.99M122.42 630.53L106.83 635.92M115.63 608.91L99.76 613.41M110.08 586.94L93.97 590.54M105.77 564.7L89.49 567.37M102.74 542.24L86.33 543.99M100.98 519.65L84.5 520.47M100.51 497L84.01 496.88M101.32 474.36L84.86 473.3M103.42 451.8L87.04 449.81M106.79 429.39L90.55 426.48M111.42 407.21L95.38 403.38M117.31 385.33L101.5 380.6M124.43 363.82L108.91 358.2M132.75 342.75L117.58 336.25M152.12 303.58L137.75 295.47M163.82 284.17L149.93 275.26M176.59 265.46L163.24 255.78M190.41 247.5L177.62 237.08M205.22 230.36L193.05 219.22M220.98 214.08L209.46 202.27M237.64 198.72L226.81 186.28M255.14 184.33L245.03 171.3M273.43 170.96L264.08 157.37M292.45 158.64L283.88 144.55M312.14 147.43L304.38 132.86M332.43 137.34L325.51 122.36M353.26 128.43L347.2 113.08M374.56 120.7L369.38 105.04M396.27 114.2L391.98 98.27M418.3 108.94L414.93 92.79M440.61 104.94L438.15 88.62M463.1 102.21L461.57 85.78M485.71 100.76L485.12 84.27" stroke="#000" stroke-width="1.5" fill="none"/>
<g font-family="Liberation Sans, Arial, sans-serif" font-size="18.2" fill="#0a0a0a" stroke="#fff" stroke-width="0.3">
<text transform="translate(544.04 82.42) rotate(-83.98) scale(0.965 1)" text-anchor="start" dy="0.338em">100</text>
<text transform="translate(567.64 85.58) rotate(-80.73) scale(0.965 1)" text-anchor="start" dy="0.338em">200</text>
<text transform="translate(591.03 90.09) rotate(-77.48) scale(0.965 1)" text-anchor="start" dy="0.338em">300</text>
<text transform="translate(614.12 95.9) rotate(-74.23) scale(0.965 1)" text-anchor="start" dy="0.338em">400</text>
<text transform="translate(636.84 103.02) rotate(-70.98) scale(0.965 1)" text-anchor="start" dy="0.338em">500</text>
<text transform="translate(659.13 111.42) rotate(-67.73) scale(0.965 1)" text-anchor="start" dy="0.338em">600</text>
<text transform="translate(680.9 121.07) rotate(-64.48) scale(0.965 1)" text-anchor="start" dy="0.338em">700</text>
<text transform="translate(702.1 131.93) rotate(-61.23) scale(0.965 1)" text-anchor="start" dy="0.338em">800</text>
<text transform="translate(722.64 143.98) rotate(-57.98) scale(0.965 1)" text-anchor="start" dy="0.338em">900</text>
<text transform="translate(742.46 157.18) rotate(-54.73) scale(0.965 1)" text-anchor="start" dy="0.338em">1000</text>
<text transform="translate(761.51 171.47) rotate(-51.48) scale(0.965 1)" text-anchor="start" dy="0.338em">1100</text>
<text transform="translate(779.71 186.83) rotate(-48.23) scale(0.965 1)" text-anchor="start" dy="0.338em">1200</text>
<text transform="translate(809.58 216.32) rotate(-42.5) scale(0.965 1)" text-anchor="start" dy="0.338em">100</text>
<text transform="translate(825.17 234.33) rotate(-39.25) scale(0.965 1)" text-anchor="start" dy="0.338em">200</text>
<text transform="translate(839.71 253.19) rotate(-36) scale(0.965 1)" text-anchor="start" dy="0.338em">300</text>
<text transform="translate(853.15 272.84) rotate(-32.75) scale(0.965 1)" text-anchor="start" dy="0.338em">400</text>
<text transform="translate(865.46 293.23) rotate(-29.5) scale(0.965 1)" text-anchor="start" dy="0.338em">500</text>
<text transform="translate(876.6 314.28) rotate(-26.25) scale(0.965 1)" text-anchor="start" dy="0.338em">600</text>
<text transform="translate(886.52 335.93) rotate(-23) scale(0.965 1)" text-anchor="start" dy="0.338em">700</text>
<text transform="translate(895.2 358.11) rotate(-19.75) scale(0.965 1)" text-anchor="start" dy="0.338em">800</text>
<text transform="translate(902.61 380.74) rotate(-16.5) scale(0.965 1)" text-anchor="start" dy="0.338em">900</text>
<text transform="translate(911.51 416.5) rotate(-11.47) scale(0.965 1)" text-anchor="start" dy="0.338em">100</text>
<text transform="translate(915.59 439.97) rotate(-8.22) scale(0.965 1)" text-anchor="start" dy="0.338em">200</text>
<text transform="translate(918.32 463.62) rotate(-4.97) scale(0.965 1)" text-anchor="start" dy="0.338em">300</text>
<text transform="translate(919.71 487.4) rotate(-1.72) scale(0.965 1)" text-anchor="start" dy="0.338em">400</text>
<text transform="translate(919.75 511.21) rotate(1.53) scale(0.965 1)" text-anchor="start" dy="0.338em">500</text>
<text transform="translate(914.09 569.59) rotate(9.54) scale(0.965 1)" text-anchor="start" dy="0.338em">100</text>
<text transform="translate(909.48 592.96) rotate(12.79) scale(0.965 1)" text-anchor="start" dy="0.338em">200</text>
<text transform="translate(903.55 616.02) rotate(16.04) scale(0.965 1)" text-anchor="start" dy="0.338em">300</text>
<text transform="translate(896.33 638.71) rotate(19.29) scale(0.965 1)" text-anchor="start" dy="0.338em">400</text>
<text transform="translate(887.82 660.96) rotate(22.54) scale(0.965 1)" text-anchor="start" dy="0.338em">500</text>
<text transform="translate(878.08 682.69) rotate(25.79) scale(0.965 1)" text-anchor="start" dy="0.338em">600</text>
<text transform="translate(867.11 703.83) rotate(29.04) scale(0.965 1)" text-anchor="start" dy="0.338em">700</text>
<text transform="translate(854.96 724.31) rotate(32.29) scale(0.965 1)" text-anchor="start" dy="0.338em">800</text>
<text transform="translate(841.68 744.08) rotate(35.54) scale(0.965 1)" text-anchor="start" dy="0.338em">900</text>
<text transform="translate(827.29 763.05) rotate(38.79) scale(0.965 1)" text-anchor="start" dy="0.338em">1000</text>
<text transform="translate(811.85 781.19) rotate(42.04) scale(0.965 1)" text-anchor="start" dy="0.338em">1100</text>
<text transform="translate(795.41 798.41) rotate(45.29) scale(0.965 1)" text-anchor="start" dy="0.338em">1200</text>
<text transform="translate(778.01 814.68) rotate(48.54) scale(0.965 1)" text-anchor="start" dy="0.338em">1300</text>
<text transform="translate(759.73 829.94) rotate(51.79) scale(0.965 1)" text-anchor="start" dy="0.338em">1400</text>
<text transform="translate(740.6 844.13) rotate(55.04) scale(0.965 1)" text-anchor="start" dy="0.338em">1500</text>
<text transform="translate(720.71 857.22) rotate(58.29) scale(0.965 1)" text-anchor="start" dy="0.338em">1600</text>
<text transform="translate(700.1 869.16) rotate(61.54) scale(0.965 1)" text-anchor="start" dy="0.338em">1700</text>
<text transform="translate(678.85 879.91) rotate(64.79) scale(0.965 1)" text-anchor="start" dy="0.338em">1800</text>
<text transform="translate(626.9 900.27) rotate(72.41) scale(0.965 1)" text-anchor="start" dy="0.338em">100</text>
<text transform="translate(604 906.82) rotate(75.66) scale(0.965 1)" text-anchor="start" dy="0.338em">200</text>
<text transform="translate(580.77 912.06) rotate(78.91) scale(0.965 1)" text-anchor="start" dy="0.338em">300</text>
<text transform="translate(557.28 915.98) rotate(82.16) scale(0.965 1)" text-anchor="start" dy="0.338em">400</text>
<text transform="translate(533.6 918.55) rotate(85.41) scale(0.965 1)" text-anchor="start" dy="0.338em">500</text>
<text transform="translate(509.82 919.79) rotate(88.66) scale(0.965 1)" text-anchor="start" dy="0.338em">600</text>
<text transform="translate(486 919.67) rotate(271.91) scale(0.965 1)" text-anchor="end" dy="0.338em">700</text>
<text transform="translate(462.24 918.2) rotate(275.16) scale(0.965 1)" text-anchor="end" dy="0.338em">800</text>
<text transform="translate(438.59 915.38) rotate(278.41) scale(0.965 1)" text-anchor="end" dy="0.338em">900</text>
<text transform="translate(385.25 903.92) rotate(285.86) scale(0.965 1)" text-anchor="end" dy="0.338em">100</text>
<text transform="translate(362.53 896.76) rotate(289.11) scale(0.965 1)" text-anchor="end" dy="0.338em">200</text>
<text transform="translate(340.26 888.33) rotate(292.36) scale(0.965 1)" text-anchor="end" dy="0.338em">300</text>
<text transform="translate(318.5 878.65) rotate(295.61) scale(0.965 1)" text-anchor="end" dy="0.338em">400</text>
<text transform="translate(297.33 867.75) rotate(298.86) scale(0.965 1)" text-anchor="end" dy="0.338em">500</text>
<text transform="translate(276.8 855.67) rotate(302.11) scale(0.965 1)" text-anchor="end" dy="0.338em">600</text>
<text transform="translate(234.55 825.35) rotate(309.21) scale(0.965 1)" text-anchor="end" dy="0.338em">100</text>
<text transform="translate(216.54 809.78) rotate(312.46) scale(0.965 1)" text-anchor="end" dy="0.338em">200</text>
<text transform="translate(187.07 779.99) rotate(318.18) scale(0.965 1)" text-anchor="end" dy="0.338em">100</text>
<text transform="translate(171.7 761.8) rotate(321.43) scale(0.965 1)" text-anchor="end" dy="0.338em">200</text>
<text transform="translate(157.39 742.76) rotate(324.68) scale(0.965 1)" text-anchor="end" dy="0.338em">300</text>
<text transform="translate(144.18 722.95) rotate(327.93) scale(0.965 1)" text-anchor="end" dy="0.338em">400</text>
<text transform="translate(132.11 702.42) rotate(331.18) scale(0.965 1)" text-anchor="end" dy="0.338em">500</text>
<text transform="translate(121.23 681.23) rotate(334.43) scale(0.965 1)" text-anchor="end" dy="0.338em">600</text>
<text transform="translate(111.56 659.47) rotate(337.68) scale(0.965 1)" text-anchor="end" dy="0.338em">700</text>
<text transform="translate(103.14 637.19) rotate(340.93) scale(0.965 1)" text-anchor="end" dy="0.338em">800</text>
<text transform="translate(96 614.47) rotate(344.18) scale(0.965 1)" text-anchor="end" dy="0.338em">900</text>
<text transform="translate(90.16 591.38) rotate(347.43) scale(0.965 1)" text-anchor="end" dy="0.338em">1000</text>
<text transform="translate(85.64 568) rotate(350.68) scale(0.965 1)" text-anchor="end" dy="0.338em">1100</text>
<text transform="translate(82.45 544.4) rotate(353.93) scale(0.965 1)" text-anchor="end" dy="0.338em">1200</text>
<text transform="translate(80.61 520.66) rotate(357.18) scale(0.965 1)" text-anchor="end" dy="0.338em">1300</text>
<text transform="translate(80.11 496.85) rotate(360.43) scale(0.965 1)" text-anchor="end" dy="0.338em">1400</text>
<text transform="translate(80.97 473.05) rotate(363.68) scale(0.965 1)" text-anchor="end" dy="0.338em">1500</text>
<text transform="translate(83.17 449.34) rotate(366.93) scale(0.965 1)" text-anchor="end" dy="0.338em">1600</text>
<text transform="translate(86.71 425.79) rotate(370.18) scale(0.965 1)" text-anchor="end" dy="0.338em">1700</text>
<text transform="translate(91.58 402.48) rotate(373.43) scale(0.965 1)" text-anchor="end" dy="0.338em">1800</text>
<text transform="translate(97.77 379.48) rotate(376.68) scale(0.965 1)" text-anchor="end" dy="0.338em">1900</text>
<text transform="translate(105.25 356.87) rotate(379.93) scale(0.965 1)" text-anchor="end" dy="0.338em">2000</text>
<text transform="translate(114 334.72) rotate(383.18) scale(0.965 1)" text-anchor="end" dy="0.338em">2100</text>
<text transform="translate(134.36 293.55) rotate(389.45) scale(0.965 1)" text-anchor="end" dy="0.338em">100</text>
<text transform="translate(146.65 273.15) rotate(392.7) scale(0.965 1)" text-anchor="end" dy="0.338em">200</text>
<text transform="translate(160.08 253.49) rotate(395.95) scale(0.965 1)" text-anchor="end" dy="0.338em">300</text>
<text transform="translate(174.6 234.61) rotate(399.2) scale(0.965 1)" text-anchor="end" dy="0.338em">400</text>
<text transform="translate(190.17 216.59) rotate(402.45) scale(0.965 1)" text-anchor="end" dy="0.338em">500</text>
<text transform="translate(206.74 199.48) rotate(405.7) scale(0.965 1)" text-anchor="end" dy="0.338em">600</text>
<text transform="translate(224.24 183.34) rotate(408.95) scale(0.965 1)" text-anchor="end" dy="0.338em">700</text>
<text transform="translate(242.64 168.21) rotate(412.2) scale(0.965 1)" text-anchor="end" dy="0.338em">800</text>
<text transform="translate(261.86 154.16) rotate(415.45) scale(0.965 1)" text-anchor="end" dy="0.338em">900</text>
<text transform="translate(281.85 141.21) rotate(418.7) scale(0.965 1)" text-anchor="end" dy="0.338em">1000</text>
<text transform="translate(302.55 129.42) rotate(421.95) scale(0.965 1)" text-anchor="end" dy="0.338em">1100</text>
<text transform="translate(323.87 118.82) rotate(425.2) scale(0.965 1)" text-anchor="end" dy="0.338em">1200</text>
<text transform="translate(345.77 109.45) rotate(428.45) scale(0.965 1)" text-anchor="end" dy="0.338em">1300</text>
<text transform="translate(368.15 101.34) rotate(431.7) scale(0.965 1)" text-anchor="end" dy="0.338em">1400</text>
<text transform="translate(390.97 94.5) rotate(434.95) scale(0.965 1)" text-anchor="end" dy="0.338em">1500</text>
<text transform="translate(414.13 88.97) rotate(438.2) scale(0.965 1)" text-anchor="end" dy="0.338em">1600</text>
<text transform="translate(437.57 84.77) rotate(441.45) scale(0.965 1)" text-anchor="end" dy="0.338em">1700</text>
<text transform="translate(461.21 81.9) rotate(444.7) scale(0.965 1)" text-anchor="end" dy="0.338em">1800</text>
<text transform="translate(484.98 80.37) rotate(447.95) scale(0.965 1)" text-anchor="end" dy="0.338em">1900</text>
</g>
<g font-family="Liberation Sans, Arial, sans-serif" font-size="10.4" fill="#404040" text-anchor="middle">
<text transform="translate(504.62 39.72) rotate(0.58) scale(0.955 1)" font-size="10.2">berenice_218</text>
<text transform="translate(676.36 78.08) rotate(22.69)">TcDm25_<tspan dx="2.6">Chr08</tspan>_<tspan dx="2.6">H1</tspan></text>
<text transform="translate(891.57 263.79) rotate(58.9)">TcDm25_<tspan dx="2.6">Chr21</tspan>_<tspan dx="2.6">H1</tspan>_<tspan dx="2.6">c1</tspan></text>
<text transform="translate(955.52 459.67) rotate(84.94)">TcDm25_<tspan dx="2.6">Chr28</tspan>_<tspan dx="2.6">H1</tspan></text>
<text transform="translate(871.76 778.82) rotate(306.87)">TcDm25_<tspan dx="2.6">Chr03</tspan>_<tspan dx="2.6">H1</tspan></text>
<text transform="translate(539.57 963.01) rotate(355.12)">TcDm25_<tspan dx="2.6">Chr08</tspan>_<tspan dx="2.6">H2</tspan>_<tspan dx="2.6">c1</tspan></text>
<text transform="translate(314.85 926.22) rotate(383.48)">TcDm25_<tspan dx="2.6">Chr03</tspan>_<tspan dx="2.6">H2</tspan>_<tspan dx="2.6">c1</tspan></text>
<text transform="translate(204.01 858.24) rotate(399.56)">TcDm25_<tspan dx="2.6">Chr03</tspan>_<tspan dx="2.6">H2</tspan>_<tspan dx="2.6">c2</tspan></text>
<text transform="translate(42.79 583.09) rotate(439.7)">TcDm25_<tspan dx="2.6">Chr02</tspan>_<tspan dx="2.6">H1</tspan></text>
<text transform="translate(252.85 115.24) rotate(327.28)">TcDm25_<tspan dx="2.6">Chr02</tspan>_<tspan dx="2.6">H2</tspan>_<tspan dx="2.6">c1</tspan></text>
</g>
</svg>
</body></html>
